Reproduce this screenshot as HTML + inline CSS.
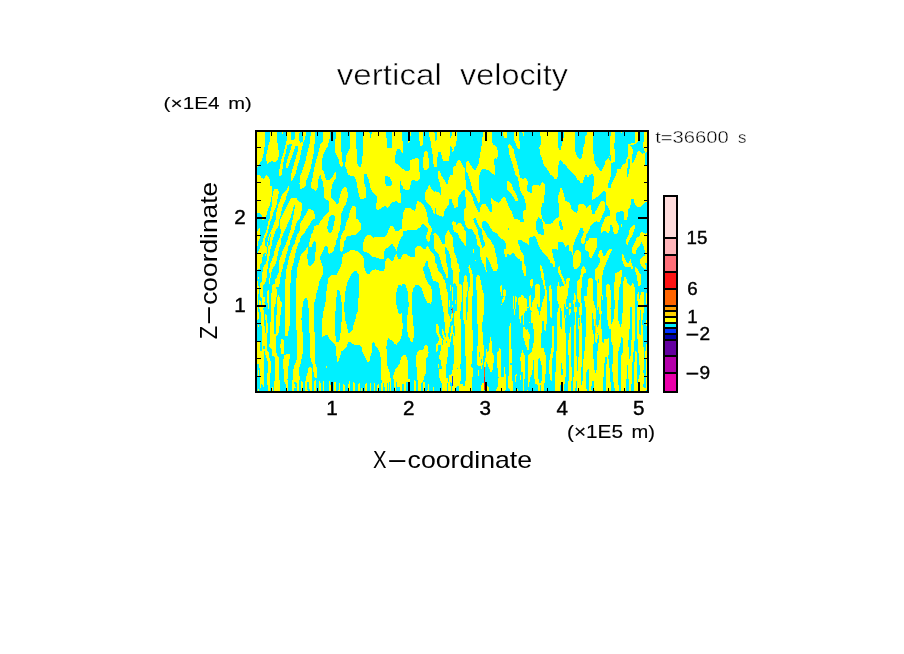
<!DOCTYPE html>
<html lang="en"><head><meta charset="utf-8"><title>vertical velocity</title>
<style>
html,body{margin:0;padding:0;background:#fff;}
body{width:904px;height:654px;overflow:hidden;}
svg{display:block;position:absolute;left:0;top:0;}
text{font-family:"Liberation Sans",sans-serif;fill:#000;}
.thin{stroke:#fff;stroke-width:0.5px;}
.lab{stroke:#000;stroke-width:0.4px;}
.un{stroke:#000;stroke-width:0.12px;}
.lt{stroke:#fff;stroke-width:0.35px;}
.ax{stroke:none;}
</style></head><body>
<svg width="904" height="654" viewBox="0 0 904 654">
<rect x="0" y="0" width="904" height="654" fill="#fff"/>
<defs><clipPath id="fc"><rect x="256" y="131" width="392" height="261"/></clipPath></defs>
<g shape-rendering="crispEdges" clip-path="url(#fc)">
<rect x="256" y="131" width="392" height="261" fill="#00f0ff"/>
<defs><clipPath id="c00"><rect x="256" y="131" width="66" height="44"/></clipPath><clipPath id="c10"><rect x="322" y="131" width="66" height="44"/></clipPath><clipPath id="c20"><rect x="388" y="131" width="66" height="44"/></clipPath><clipPath id="c30"><rect x="454" y="131" width="66" height="44"/></clipPath><clipPath id="c40"><rect x="520" y="131" width="66" height="44"/></clipPath><clipPath id="c50"><rect x="586" y="131" width="66" height="44"/></clipPath><clipPath id="c01"><rect x="256" y="175" width="66" height="44"/></clipPath><clipPath id="c11"><rect x="322" y="175" width="66" height="44"/></clipPath><clipPath id="c21"><rect x="388" y="175" width="66" height="44"/></clipPath><clipPath id="c31"><rect x="454" y="175" width="66" height="44"/></clipPath><clipPath id="c41"><rect x="520" y="175" width="66" height="44"/></clipPath><clipPath id="c51"><rect x="586" y="175" width="66" height="44"/></clipPath><clipPath id="c02"><rect x="256" y="219" width="66" height="44"/></clipPath><clipPath id="c12"><rect x="322" y="219" width="66" height="44"/></clipPath><clipPath id="c22"><rect x="388" y="219" width="66" height="44"/></clipPath><clipPath id="c32"><rect x="454" y="219" width="66" height="44"/></clipPath><clipPath id="c42"><rect x="520" y="219" width="66" height="44"/></clipPath><clipPath id="c52"><rect x="586" y="219" width="66" height="44"/></clipPath><clipPath id="c03"><rect x="256" y="263" width="66" height="44"/></clipPath><clipPath id="c13"><rect x="322" y="263" width="66" height="44"/></clipPath><clipPath id="c23"><rect x="388" y="263" width="66" height="44"/></clipPath><clipPath id="c33"><rect x="454" y="263" width="66" height="44"/></clipPath><clipPath id="c43"><rect x="520" y="263" width="66" height="44"/></clipPath><clipPath id="c53"><rect x="586" y="263" width="66" height="44"/></clipPath><clipPath id="c04"><rect x="256" y="307" width="66" height="44"/></clipPath><clipPath id="c14"><rect x="322" y="307" width="66" height="44"/></clipPath><clipPath id="c24"><rect x="388" y="307" width="66" height="44"/></clipPath><clipPath id="c34"><rect x="454" y="307" width="66" height="44"/></clipPath><clipPath id="c44"><rect x="520" y="307" width="66" height="44"/></clipPath><clipPath id="c54"><rect x="586" y="307" width="66" height="44"/></clipPath><clipPath id="c05"><rect x="256" y="351" width="66" height="44"/></clipPath><clipPath id="c15"><rect x="322" y="351" width="66" height="44"/></clipPath><clipPath id="c25"><rect x="388" y="351" width="66" height="44"/></clipPath><clipPath id="c35"><rect x="454" y="351" width="66" height="44"/></clipPath><clipPath id="c45"><rect x="520" y="351" width="66" height="44"/></clipPath><clipPath id="c55"><rect x="586" y="351" width="66" height="44"/></clipPath></defs>
<g clip-path="url(#c00)">
<polygon fill="#ffff00" points="256.0,131.0 256.0,145.6 256.0,150.0 256.0,155.8 256.0,159.5 256.0,162.4 256.0,165.3 256.0,166.8 257.5,166.8 258.2,165.3 260.5,162.4 262.2,159.5 263.3,155.8 263.9,150.0 264.8,145.6 264.8,131.0"/>
<polygon fill="#ffff00" points="269.9,131.0 269.5,142.0 268.4,144.9 267.7,148.5 267.0,152.2 266.2,155.8 265.9,159.1 267.0,162.4 267.3,163.9 268.0,163.9 268.8,162.4 277.9,159.1 279.0,155.8 279.0,152.2 278.3,148.5 277.9,144.9 277.2,142.0 277.2,131.0"/>
<polygon fill="#ffff00" points="272.8,159.1 273.2,160.2 273.5,162.0 275.1,162.0 277.2,160.2 277.9,159.1"/>
<polygon fill="#ffff00" points="281.9,131.7 281.9,133.9 283.0,133.9 283.0,131.7"/>
<polygon fill="#ffff00" points="286.7,131.0 286.7,140.5 285.9,143.4 285.2,145.6 283.7,152.9 282.3,156.6 281.2,160.2 280.5,163.9 279.7,167.5 279.2,171.2 279.0,175.0 281.6,175.0 282.3,171.2 282.6,167.5 283.4,163.9 283.7,160.2 284.5,156.6 285.9,152.9 287.0,145.6 290.3,143.4 291.0,140.5 291.0,131.0"/>
<polygon fill="#ffff00" points="295.1,131.0 295.1,136.8 294.0,140.5 291.8,143.4 291.8,144.1 291.8,145.6 302.7,145.6 302.7,144.1 300.7,143.4 299.4,140.5 299.1,136.8 299.8,131.0"/>
<polygon fill="#ffff00" points="290.3,139.8 290.3,144.1 295.8,144.1 294.7,139.8"/>
<polygon fill="#ffff00" points="291.8,144.1 291.6,145.6 290.9,149.3 289.7,152.9 288.1,156.6 287.0,160.2 286.3,163.9 286.1,166.8 286.3,167.9 287.4,167.9 288.1,166.8 289.2,163.9 290.5,160.2 291.9,156.6 293.4,152.9 294.5,149.3 295.3,145.6 295.8,144.1"/>
<polygon fill="#ffff00" points="302.7,131.0 302.7,138.3 302.6,142.0 297.6,144.1 298.0,149.3 297.2,152.9 296.2,156.6 295.1,160.2 294.0,163.9 292.9,167.5 292.1,171.2 291.0,175.0 295.1,175.0 296.2,171.2 297.2,167.5 298.3,163.9 299.4,160.2 300.2,156.6 300.9,152.9 301.6,149.3 302.9,144.1 303.6,142.0 305.1,138.3 306.4,131.0"/>
<polygon fill="#ffff00" points="310.8,131.0 310.4,138.3 309.3,145.6 307.1,152.9 305.6,160.2 303.5,167.5 300.9,175.0 308.6,175.0 310.8,167.5 312.2,160.2 313.7,152.9 314.4,145.6 315.1,138.3 315.1,131.0"/>
<polygon fill="#ffff00" points="321.0,142.7 319.2,149.3 317.3,156.6 315.1,163.9 313.7,171.2 312.9,175.0 322.0,175.0 322.0,171.2 322.0,163.9 322.0,156.6 322.0,149.3 322.0,142.7"/>
</g>
<g clip-path="url(#c10)">
<rect x="322" y="131" width="66" height="44" fill="#ffff00"/>
<polygon fill="#00f0ff" points="322.0,131.0 322.0,142.0 322.9,142.0 323.1,131.0"/>
<polygon fill="#00f0ff" points="330.0,131.0 329.7,138.3 328.9,140.5 328.2,145.6 325.7,149.3 324.2,152.2 323.1,155.1 322.4,158.7 322.0,160.2 322.0,163.9 322.0,166.8 322.0,167.5 322.0,171.9 322.0,175.0 347.9,175.0 347.2,171.9 346.1,167.5 341.3,166.8 339.5,163.9 338.8,160.2 338.4,158.7 336.6,155.1 335.1,152.2 335.1,149.3 335.1,145.6 335.1,140.5 335.9,138.3 335.9,131.0"/>
<polygon fill="#00f0ff" points="341.0,131.0 341.1,148.5 341.1,149.3 341.6,152.2 342.1,154.4 342.1,155.8 342.1,161.7 343.2,162.4 342.8,166.0 341.7,167.5 341.7,171.9 341.7,175.0 347.9,175.0 346.8,171.9 345.7,167.5 345.2,166.0 345.0,162.4 345.7,161.7 346.1,155.8 347.2,154.4 347.9,152.2 349.0,149.3 349.7,148.5 349.7,131.0"/>
<polygon fill="#ffff00" points="322.0,170.4 322.0,172.6 322.0,175.0 324.9,175.0 324.2,172.6 323.1,170.4"/>
<polygon fill="#ffff00" points="334.8,172.2 334.0,173.3 334.0,175.0 335.9,175.0 335.9,173.3 335.9,172.2"/>
<polygon fill="#00f0ff" points="355.2,131.0 355.9,133.9 356.2,148.5 357.0,150.0 357.2,155.8 357.2,156.6 357.2,163.9 358.1,165.3 359.2,166.8 360.7,166.8 361.1,165.3 361.8,163.9 362.0,156.6 362.9,155.8 363.2,150.0 363.2,148.5 363.2,133.9 363.2,131.0"/>
<polygon fill="#00f0ff" points="369.1,131.0 369.8,133.9 370.0,137.6 370.8,137.6 371.6,133.9 372.0,131.0"/>
<polygon fill="#00f0ff" points="386.1,131.0 386.2,137.6 387.0,138.3 387.1,147.8 388.0,147.8 388.0,138.3 388.0,137.6 388.0,131.0"/>
<polygon fill="#00f0ff" points="364.3,174.1 364.3,175.0 366.9,175.0 366.9,174.1"/>
</g>
<g clip-path="url(#c20)">
<polygon fill="#ffff00" points="392.0,131.0 392.0,140.5 392.0,141.2 392.0,147.8 390.9,149.3 402.2,152.9 403.0,152.9 403.0,149.3 403.0,147.8 403.0,141.2 401.9,140.5 401.9,131.0"/>
<polygon fill="#ffff00" points="388.0,147.8 388.0,149.3 388.0,152.2 388.0,156.6 388.0,163.1 388.0,165.3 388.0,169.0 388.0,171.5 388.0,175.0 420.1,175.0 407.3,171.5 402.6,169.0 399.0,165.3 395.3,163.1 394.9,156.6 396.2,152.2 397.1,149.3 388.7,147.8"/>
<polygon fill="#00f0ff" points="397.1,149.3 396.2,152.9 402.2,152.9 400.0,149.3"/>
<polygon fill="#ffff00" points="416.5,158.2 410.6,159.8 409.9,161.3 409.9,169.7 407.3,171.5 388.0,175.0 420.1,175.0 419.4,171.5 419.0,169.7 419.0,161.3 419.0,159.8 417.9,158.2"/>
<polygon fill="#ffff00" points="419.0,131.0 419.0,140.5 419.8,141.2 420.1,144.9 420.5,146.0 422.3,146.0 422.7,144.9 423.0,141.2 423.0,140.5 423.0,131.0"/>
<polygon fill="#ffff00" points="408.1,141.2 408.4,142.7 409.2,142.7 409.9,141.2"/>
<polygon fill="#ffff00" points="409.9,131.0 409.9,136.1 411.0,136.1 411.2,131.0"/>
<polygon fill="#ffff00" points="425.2,150.7 423.8,152.9 423.8,156.6 423.0,158.7 423.0,167.5 424.1,169.0 424.5,170.1 426.0,170.1 427.8,169.0 428.9,167.5 428.9,158.7 428.2,156.6 427.8,152.9 426.7,150.7"/>
<polygon fill="#ffff00" points="429.2,131.0 429.2,135.4 430.3,140.5 431.1,142.7 431.4,147.8 432.2,152.2 450.1,152.2 450.1,147.8 450.1,142.7 450.1,140.5 450.1,135.4 450.1,131.0"/>
<polygon fill="#ffff00" points="432.2,152.2 432.9,155.8 433.3,158.7 433.4,163.9 434.0,164.6 434.0,166.9 436.9,166.9 436.9,164.6 436.9,163.9 437.1,158.7 438.0,155.8 438.4,152.2"/>
<polygon fill="#ffff00" points="440.6,152.2 441.7,155.8 442.0,156.9 443.1,160.9 449.0,160.9 449.0,156.9 449.9,155.8 450.1,152.2"/>
<polygon fill="#00f0ff" points="434.0,131.0 434.7,133.9 435.1,139.8 435.5,140.9 436.2,140.9 436.6,139.8 436.9,133.9 436.9,131.0"/>
<polygon fill="#ffff00" points="450.1,131.0 450.1,145.6 450.9,146.3 452.6,149.3 452.2,152.2 453.3,152.2 454.0,149.3 454.0,146.3 454.0,145.6 454.0,131.0"/>
<polygon fill="#00f0ff" points="450.1,131.0 450.1,133.9 450.2,137.6 451.2,137.6 451.9,133.9 452.1,131.0"/>
<polygon fill="#ffff00" points="438.0,170.8 438.2,173.3 438.4,175.0 441.3,175.0 440.7,173.3 439.8,170.8"/>
<polygon fill="#ffff00" points="453.0,166.8 452.8,175.0 454.0,175.0 454.0,166.8"/>
</g>
<g clip-path="url(#c30)">
<polygon fill="#ffff00" points="454.0,131.0 454.0,140.5 454.0,142.0 454.0,145.6 454.0,146.7 454.6,146.7 455.5,145.6 456.2,142.0 456.9,140.5 456.9,131.0"/>
<polygon fill="#ffff00" points="483.2,131.0 482.8,136.8 482.1,138.3 482.1,142.0 482.1,144.9 481.0,146.3 481.0,148.5 480.6,151.4 479.9,152.9 479.9,156.6 479.9,156.9 479.2,159.1 478.5,163.9 477.7,165.3 477.0,167.5 475.5,169.7 474.4,171.0 474.4,175.0 494.9,175.0 494.5,171.0 494.9,169.7 494.9,167.5 494.9,165.3 494.2,163.9 494.2,159.1 495.6,156.9 497.8,156.6 497.8,152.9 497.8,151.4 497.1,148.5 496.0,146.3 493.4,144.9 492.0,142.0 492.0,138.3 492.0,136.8 492.0,131.0"/>
<polygon fill="#ffff00" points="494.9,156.6 496.0,159.1 496.9,159.1 497.8,156.6"/>
<polygon fill="#00f0ff" points="482.1,169.0 481.2,170.4 480.4,172.2 479.9,174.1 479.9,175.0 494.9,175.0 492.7,174.1 490.9,172.2 489.4,170.4 484.3,169.0"/>
<polygon fill="#ffff00" points="458.0,160.2 456.9,162.4 455.8,165.3 454.0,166.8 454.0,168.2 454.0,175.0 465.0,175.0 465.0,168.2 463.5,166.8 462.8,165.3 461.3,162.4 459.8,160.2"/>
<polygon fill="#ffff00" points="467.1,160.9 466.0,163.1 466.0,166.0 466.0,169.0 466.0,170.8 466.4,171.9 467.5,173.3 468.2,175.0 479.9,175.0 479.6,173.3 475.9,171.9 474.8,170.8 473.3,169.0 471.2,166.0 469.7,163.1 469.0,160.9"/>
<polygon fill="#ffff00" points="502.9,131.0 503.1,135.4 504.0,136.1 504.4,137.9 506.7,137.9 506.9,136.1 506.9,135.4 506.9,131.0"/>
<polygon fill="#ffff00" points="514.2,131.0 514.2,140.5 515.0,141.2 515.7,144.1 517.5,147.8 518.6,148.9 520.0,148.9 520.0,147.8 520.0,144.1 520.0,141.2 519.0,140.5 519.0,131.0"/>
<polygon fill="#ffff00" points="508.8,144.1 508.0,146.3 508.8,149.3 509.1,152.9 509.9,156.6 511.3,160.2 512.4,163.9 513.5,167.5 514.6,171.2 515.0,175.0 519.0,175.0 518.8,171.2 518.2,167.5 517.2,163.9 516.4,160.2 515.0,156.6 514.2,152.9 513.5,149.3 511.7,146.3 510.2,144.1"/>
</g>
<g clip-path="url(#c40)">
<polygon fill="#ffff00" points="522.2,131.0 522.6,133.9 523.1,135.7 523.8,135.7 524.0,133.9 524.0,131.0"/>
<polygon fill="#ffff00" points="540.1,131.0 540.1,135.4 541.0,136.8 541.0,144.1 540.1,145.6 539.1,148.5 539.9,150.0 540.1,154.4 541.2,155.8 541.9,158.7 542.6,160.2 543.4,163.9 544.8,166.0 547.0,169.0 548.8,171.9 550.3,175.0 586.0,175.0 586.0,171.9 586.0,169.0 586.0,166.0 586.0,163.9 586.0,160.2 586.0,158.7 586.0,155.8 586.0,154.4 586.0,150.0 586.0,148.5 586.0,145.6 586.0,144.1 586.0,136.8 586.0,135.4 586.0,131.0"/>
<polygon fill="#00f0ff" points="558.3,131.0 558.1,140.5 558.1,142.0 558.1,144.1 558.1,147.8 559.1,149.3 559.4,150.0 560.5,150.0 560.9,149.3 561.2,147.8 562.0,144.1 562.3,142.0 563.4,140.5 563.8,131.0"/>
<polygon fill="#00f0ff" points="559.8,159.8 559.1,161.7 558.7,163.9 558.3,165.3 558.0,167.5 558.0,169.7 558.0,171.9 558.0,175.0 574.0,175.0 571.5,171.9 569.6,169.7 567.5,167.5 565.6,165.3 563.8,163.9 562.0,161.7 560.9,159.8"/>
<polygon fill="#00f0ff" points="574.8,131.0 574.8,142.0 574.8,145.6 574.9,149.3 575.9,152.9 576.9,155.8 578.4,158.0 579.5,159.1 581.0,159.1 581.7,158.0 582.2,155.8 582.6,152.9 582.9,149.3 583.9,145.6 585.0,142.0 586.0,131.0"/>
</g>
<g clip-path="url(#c50)">
<rect x="586" y="131" width="66" height="44" fill="#ffff00"/>
<polygon fill="#00f0ff" points="586.0,131.0 586.0,134.7 586.9,134.7 587.1,131.0"/>
<polygon fill="#00f0ff" points="593.3,131.0 593.3,135.4 593.3,136.8 593.3,152.2 593.7,155.1 594.2,159.1 594.6,161.7 596.2,165.3 598.4,168.2 600.6,170.8 601.7,170.8 603.2,168.2 604.3,165.3 605.3,161.7 607.2,159.1 610.5,155.1 609.9,152.2 609.9,136.8 610.8,135.4 610.8,131.0"/>
<polygon fill="#00f0ff" points="609.9,155.1 609.2,159.1 611.0,162.0 611.3,162.0 611.2,159.1 610.8,155.1"/>
<polygon fill="#00f0ff" points="615.1,131.0 615.1,142.0 614.3,142.7 614.3,144.1 614.3,149.3 615.1,150.0 615.1,156.6 615.1,158.7 614.5,161.7 611.2,163.1 611.2,164.2 611.2,165.3 611.2,169.0 611.2,169.3 611.2,171.9 611.2,175.0 615.9,175.0 616.7,171.9 617.4,169.3 621.0,169.0 622.1,165.3 624.0,164.2 625.8,163.1 626.0,161.7 626.5,158.7 627.6,156.6 628.0,150.0 628.0,149.3 628.2,144.1 635.6,142.7 635.1,142.0 635.1,131.0"/>
<polygon fill="#00f0ff" points="640.0,131.0 640.0,140.5 638.0,141.2 637.8,142.0 635.6,144.1 629.8,145.6 631.6,147.4 632.7,149.3 632.7,152.9 632.4,155.1 632.0,156.6 631.6,160.2 631.6,163.1 632.4,163.1 634.6,160.2 636.0,156.6 637.1,155.1 645.1,152.9 644.0,149.3 642.9,147.4 642.9,145.6 642.9,144.1 642.9,142.0 644.0,141.2 644.0,140.5 644.0,131.0"/>
<polygon fill="#ffff00" points="638.9,151.1 637.1,152.9 636.4,155.1 636.0,156.6 645.1,156.6 643.7,155.1 641.5,152.9 640.0,151.1"/>
<polygon fill="#00f0ff" points="628.3,159.1 628.0,163.1 627.6,167.5 627.2,171.2 627.2,175.0 628.3,175.0 629.1,171.2 629.8,167.5 630.5,163.1 629.8,159.1"/>
<polygon fill="#00f0ff" points="645.9,152.2 645.1,152.9 645.3,164.6 646.2,165.3 647.0,165.3 647.0,164.6 647.0,152.9 647.0,152.2"/>
<polygon fill="#ffff00" points="621.0,131.6 621.0,132.8 621.9,132.8 621.9,131.6"/>
<polygon fill="#00f0ff" points="591.1,174.1 591.1,175.0 592.9,175.0 592.9,174.1"/>
</g>
<g clip-path="url(#c01)">
<polygon fill="#ffff00" points="256.0,175.0 256.0,177.9 256.0,179.4 256.0,180.8 256.0,185.2 256.0,186.7 256.0,196.9 256.0,197.6 256.0,202.0 256.0,205.7 256.0,209.3 256.0,213.0 256.0,217.0 256.0,219.0 265.9,219.0 265.9,217.0 267.0,213.0 268.0,209.3 269.5,205.7 270.6,202.0 271.0,197.6 271.9,196.9 271.9,186.7 269.5,185.2 269.5,180.8 269.9,179.4 268.8,177.9 267.0,175.0"/>
<polygon fill="#00f0ff" points="260.0,175.0 261.1,177.2 262.9,178.7 264.0,178.7 265.1,177.2 265.9,175.0"/>
<polygon fill="#00f0ff" points="256.0,213.0 256.0,214.4 256.0,217.0 256.0,219.0 262.2,219.0 262.2,217.0 261.1,214.4 258.9,213.0"/>
<polygon fill="#ffff00" points="274.3,189.2 273.4,191.8 272.4,196.9 271.9,200.6 271.7,204.2 271.7,206.4 271.0,209.3 270.2,212.2 269.9,215.9 269.5,219.0 271.7,219.0 272.4,215.9 273.5,212.2 275.0,209.3 276.1,206.4 276.8,204.2 277.2,200.6 277.9,196.9 279.0,191.8 277.9,189.2"/>
<polygon fill="#ffff00" points="288.1,186.3 286.7,189.6 284.5,191.8 282.3,194.7 281.2,196.9 280.1,200.6 279.0,202.7 277.9,205.7 277.2,209.3 276.4,213.0 276.1,215.9 275.9,219.0 280.1,219.0 280.5,215.9 280.8,213.0 281.9,209.3 283.0,205.7 284.1,202.7 285.2,200.6 286.3,196.9 287.0,194.7 288.1,191.8 289.0,189.6 289.0,186.3"/>
<polygon fill="#ffff00" points="291.0,198.4 290.2,199.8 289.2,202.0 288.1,203.5 287.0,205.7 285.6,208.6 284.5,210.8 283.4,213.0 281.9,215.9 280.8,219.0 299.8,219.0 300.5,215.9 301.3,213.0 301.6,210.8 302.0,208.6 302.0,205.7 302.0,203.5 299.8,202.0 297.6,199.8 296.9,198.4"/>
<polygon fill="#00f0ff" points="294.0,204.9 293.2,207.9 292.5,210.8 291.4,214.4 290.9,216.6 290.3,219.0 292.9,219.0 293.1,216.6 293.6,214.4 294.3,210.8 294.7,207.9 295.1,204.9"/>
<polygon fill="#ffff00" points="308.9,208.9 307.1,211.5 305.6,214.4 304.2,216.6 303.1,219.0 315.0,219.0 315.0,216.6 314.8,214.4 313.7,211.5 310.8,208.9"/>
<polygon fill="#ffff00" points="291.0,175.0 291.0,177.2 291.0,178.7 291.2,180.8 292.1,180.8 292.9,178.7 294.0,177.2 295.1,175.0"/>
<polygon fill="#ffff00" points="279.0,175.0 279.2,175.9 280.7,175.9 280.8,175.0"/>
<polygon fill="#ffff00" points="300.5,175.0 300.4,179.4 300.2,180.1 299.4,183.8 299.8,185.2 300.2,186.7 300.4,188.5 302.0,188.5 304.9,186.7 306.0,185.2 306.0,183.8 306.4,180.1 307.1,179.4 308.2,175.0"/>
<polygon fill="#ffff00" points="312.9,175.0 312.6,177.2 312.2,179.4 311.5,182.3 311.1,183.8 311.1,187.4 312.9,188.9 314.8,190.5 316.2,190.5 317.0,188.9 317.7,187.4 318.1,183.8 318.1,182.3 318.4,179.4 319.2,177.2 320.2,175.0"/>
<polygon fill="#ffff00" points="320.6,175.0 321.0,178.7 322.0,178.7 322.0,175.0"/>
</g>
<g clip-path="url(#c11)">
<polygon fill="#ffff00" points="322.0,175.0 322.0,178.7 322.0,180.8 322.9,181.6 323.1,186.0 323.8,187.4 324.0,191.8 324.0,197.6 326.0,199.8 328.9,200.9 329.3,202.7 329.3,204.9 329.3,206.4 338.1,206.4 337.0,204.9 335.9,202.7 334.0,200.9 333.0,199.8 331.1,197.6 330.9,191.8 331.9,187.4 331.9,186.0 333.7,181.6 334.0,180.8 335.9,178.7 335.9,175.0"/>
<polygon fill="#00f0ff" points="324.9,175.0 325.3,177.9 326.4,179.7 330.0,179.7 332.2,177.9 333.0,175.0"/>
<polygon fill="#ffff00" points="343.9,187.0 342.8,188.5 341.3,191.8 340.8,192.5 339.9,196.9 339.2,198.4 338.8,202.0 338.4,202.7 336.6,204.9 329.3,206.4 328.9,209.3 328.6,211.5 327.5,213.0 326.0,214.4 324.2,215.9 322.7,219.0 341.0,219.0 341.0,215.9 341.0,214.4 341.6,213.0 342.3,211.5 343.2,209.3 344.3,206.4 345.4,204.9 346.1,202.7 346.8,202.0 347.2,198.4 347.9,196.9 347.9,192.5 347.2,191.8 347.2,188.5 346.1,187.0"/>
<polygon fill="#00f0ff" points="331.1,215.0 329.7,216.6 328.9,219.0 335.1,219.0 334.6,216.6 333.7,215.0"/>
<polygon fill="#ffff00" points="347.9,175.0 353.4,176.1 355.2,177.9 355.9,179.4 356.7,183.0 357.0,184.5 357.4,188.1 357.9,188.9 358.5,192.5 359.6,196.9 360.0,197.8 360.3,198.7 363.6,198.7 365.8,197.8 366.0,196.9 366.0,192.5 366.0,188.9 365.8,188.1 364.7,184.5 364.2,183.0 364.0,179.4 364.0,177.9 364.0,176.1 364.0,175.0"/>
<polygon fill="#ffff00" points="367.1,175.0 367.6,177.2 368.7,179.4 369.5,183.0 370.6,188.1 371.6,190.7 374.2,193.3 376.8,196.2 376.8,202.7 376.0,203.5 376.0,204.6 376.0,207.1 376.0,208.2 376.4,208.9 377.1,209.7 378.2,209.7 379.7,208.9 381.5,208.2 383.0,207.1 388.0,204.6 388.0,203.5 388.0,202.7 388.0,196.2 388.0,193.3 388.0,190.7 388.0,188.1 388.0,183.0 388.0,179.4 388.0,177.2 388.0,175.0"/>
<polygon fill="#ffff00" points="384.8,204.6 386.6,207.1 387.3,207.5 388.0,207.5 388.0,207.1 388.0,204.6"/>
<polygon fill="#00f0ff" points="386.2,175.7 385.2,176.8 385.2,183.8 385.9,184.5 386.2,186.0 388.0,186.0 388.0,184.5 388.0,183.8 388.0,176.8 388.0,175.7"/>
<polygon fill="#ffff00" points="353.0,206.0 351.9,207.1 351.2,208.6 350.1,210.8 349.2,214.4 348.6,217.3 347.9,219.0 355.9,219.0 355.9,217.3 355.9,214.4 355.9,210.8 355.9,208.6 355.9,207.1 354.9,206.0"/>
</g>
<g clip-path="url(#c21)">
<polygon fill="#ffff00" points="388.0,175.0 388.0,192.5 388.0,193.3 388.0,200.2 388.0,202.4 388.0,205.7 388.0,207.1 388.4,207.1 389.5,205.7 391.7,202.4 401.0,200.2 401.0,193.3 400.0,192.5 400.4,175.0"/>
<polygon fill="#ffff00" points="393.8,200.2 396.0,200.9 398.2,203.1 401.0,203.1 401.0,200.9 401.0,200.2"/>
<polygon fill="#00f0ff" points="388.0,177.2 388.0,179.4 388.0,181.6 388.0,184.5 388.0,186.0 390.9,186.0 392.0,184.5 392.0,181.6 390.9,179.4 389.5,177.2"/>
<polygon fill="#ffff00" points="400.4,175.0 400.4,177.9 400.4,180.8 401.5,184.5 401.9,185.2 403.7,188.9 405.5,190.0 408.4,190.0 409.5,188.9 409.9,185.2 411.0,184.5 411.4,180.8 420.1,177.9 420.1,175.0"/>
<polygon fill="#ffff00" points="412.5,177.9 412.8,178.7 415.4,180.8 417.9,180.8 419.8,178.7 420.1,177.9"/>
<polygon fill="#ffff00" points="428.9,185.2 427.8,188.1 426.3,190.7 425.2,192.2 425.2,195.8 425.2,199.1 426.3,201.3 428.9,204.2 429.6,204.9 431.1,207.1 431.8,208.6 432.5,210.0 433.6,213.0 434.7,213.7 438.4,215.2 442.0,216.6 443.1,216.6 443.9,215.2 444.2,213.7 444.2,213.0 444.6,210.0 445.7,208.6 447.1,207.1 448.6,204.9 449.0,204.2 449.0,201.3 449.0,199.1 440.9,195.8 439.1,192.2 432.7,190.7 430.9,188.1 430.0,185.2"/>
<polygon fill="#ffff00" points="438.0,175.0 438.4,178.7 439.8,182.3 440.2,186.7 440.7,187.4 440.7,195.8 440.7,199.1 454.0,199.1 454.0,195.8 454.0,187.4 454.0,186.7 454.0,182.3 454.0,178.7 454.0,175.0"/>
<polygon fill="#00f0ff" points="440.9,175.0 443.5,178.7 445.3,181.6 446.4,183.8 447.9,183.8 448.2,181.6 449.0,178.7 450.1,175.0"/>
<polygon fill="#ffff00" points="451.9,199.1 452.2,202.0 453.3,204.2 453.7,204.9 454.0,204.9 454.0,204.2 454.0,202.0 454.0,199.1"/>
<polygon fill="#00f0ff" points="435.1,208.2 434.9,213.7 435.6,213.7 435.8,208.2"/>
<polygon fill="#00f0ff" points="433.6,190.0 434.0,192.2 435.1,192.2 435.5,190.0"/>
<polygon fill="#ffff00" points="417.6,201.3 416.8,202.7 416.1,205.7 415.7,207.1 415.4,210.0 412.1,214.4 412.1,219.0 427.8,219.0 427.1,214.4 426.0,210.0 424.9,207.1 423.8,205.7 420.9,202.7 419.0,201.3"/>
<polygon fill="#ffff00" points="405.5,208.2 404.1,210.8 403.7,211.5 403.0,214.4 403.0,219.0 417.2,219.0 417.2,214.4 415.4,211.5 413.9,210.8 411.0,208.2"/>
</g>
<g clip-path="url(#c31)">
<polygon fill="#ffff00" points="454.0,175.0 454.0,179.4 454.0,180.1 454.0,189.6 454.0,190.0 454.0,192.5 454.0,196.2 454.0,197.6 454.0,207.1 454.0,207.9 454.7,207.9 458.0,207.1 458.0,197.6 459.1,196.2 461.3,192.5 463.1,190.0 466.0,189.6 466.0,180.1 465.1,179.4 465.0,175.0"/>
<polygon fill="#ffff00" points="465.0,188.9 465.0,190.0 465.0,193.3 465.3,196.2 466.0,198.4 466.0,202.0 466.0,204.2 465.7,207.9 464.2,209.3 464.1,211.5 464.1,212.2 464.1,219.0 479.2,219.0 479.2,212.2 478.5,211.5 477.4,209.3 476.6,207.9 474.8,204.2 473.7,202.0 472.8,198.4 472.1,196.2 470.4,193.3 467.5,190.0 466.4,188.9"/>
<polygon fill="#ffff00" points="483.2,204.1 481.4,204.9 481.0,206.4 480.3,207.9 480.1,208.6 479.9,211.5 479.2,212.2 479.2,219.0 492.0,219.0 492.0,212.2 489.8,211.5 488.3,208.6 487.9,207.9 486.9,206.4 486.1,204.9 485.8,204.1"/>
<polygon fill="#ffff00" points="503.1,196.9 502.2,198.0 500.7,200.6 498.5,202.9 492.0,204.9 492.0,207.9 492.0,211.5 492.0,215.9 492.0,219.0 514.6,219.0 513.1,215.9 511.7,211.5 509.5,207.9 508.0,204.9 507.3,202.9 506.4,200.6 505.8,198.0 505.0,196.9"/>
<polygon fill="#ffff00" points="491.1,198.0 491.1,200.2 491.1,202.9 491.4,204.2 492.0,204.9 498.7,204.9 498.7,204.2 498.7,202.9 493.4,200.2 491.7,198.0"/>
<polygon fill="#00f0ff" points="474.1,218.1 474.1,219.0 475.9,219.0 475.9,218.1"/>
<polygon fill="#ffff00" points="467.9,175.0 468.6,175.7 469.7,179.4 470.9,183.0 471.9,188.1 473.1,192.5 475.8,196.2 476.6,198.4 477.7,201.3 478.5,202.7 479.2,202.7 479.6,201.3 479.9,198.4 479.9,196.2 479.9,192.5 479.2,188.1 479.2,183.0 479.2,179.4 479.2,175.7 479.9,175.0"/>
<polygon fill="#ffff00" points="507.7,181.2 506.9,182.3 506.9,185.2 506.9,189.6 508.0,190.7 510.6,193.3 513.1,196.2 514.6,199.1 515.3,200.9 517.9,200.9 517.9,199.1 516.8,196.2 515.7,193.3 514.6,190.7 513.5,189.6 512.0,185.2 510.2,182.3 509.1,181.2"/>
<polygon fill="#ffff00" points="516.1,175.0 517.2,176.5 518.1,179.4 519.0,182.3 519.1,186.7 520.0,186.7 520.0,182.3 520.0,179.4 520.0,176.5 520.0,175.0"/>
</g>
<g clip-path="url(#c41)">
<polygon fill="#ffff00" points="520.0,177.9 520.0,179.4 520.0,181.2 520.0,184.5 520.0,185.2 520.0,190.7 520.9,191.8 521.5,192.9 529.9,192.9 528.8,191.8 527.2,190.7 527.2,185.2 527.9,184.5 527.9,181.2 526.9,179.4 526.2,177.9"/>
<polygon fill="#ffff00" points="533.1,185.2 532.0,186.7 531.7,192.9 544.8,192.9 544.8,186.7 537.2,185.2"/>
<polygon fill="#ffff00" points="541.9,181.9 541.0,184.1 539.3,186.7 544.8,186.7 544.8,184.1 542.8,181.9"/>
<polygon fill="#ffff00" points="521.5,192.9 522.2,194.7 522.9,195.4 524.0,196.9 524.7,199.8 525.1,202.7 525.8,203.5 525.8,206.4 525.8,207.1 525.8,210.0 524.0,210.4 523.1,212.2 523.1,214.8 523.1,215.5 523.1,219.0 541.9,219.0 541.9,215.5 541.2,214.8 541.2,212.2 541.2,210.4 541.2,210.0 541.2,207.1 541.9,206.4 542.3,203.5 543.7,202.7 544.1,199.8 544.1,196.9 544.1,195.4 544.8,194.7 544.8,192.9"/>
<polygon fill="#00f0ff" points="537.9,217.0 537.9,219.0 540.1,219.0 539.1,217.0"/>
<polygon fill="#00f0ff" points="521.8,177.9 522.2,178.7 523.7,178.7 524.0,177.9"/>
<polygon fill="#ffff00" points="552.1,175.0 552.9,176.8 553.9,177.9 554.3,179.0 556.9,179.0 557.2,177.9 557.6,176.8 558.0,175.0"/>
<polygon fill="#ffff00" points="574.8,175.0 575.9,176.8 576.9,179.4 578.4,180.1 579.9,181.2 580.2,182.7 582.8,182.7 582.9,181.2 583.5,180.1 583.9,179.4 584.6,176.8 585.0,175.0"/>
<polygon fill="#ffff00" points="560.2,188.1 560.0,190.7 559.1,194.0 558.1,196.2 558.0,200.6 558.3,202.4 559.1,203.5 559.1,205.7 559.1,208.6 559.1,210.8 559.1,213.0 559.1,213.7 559.1,217.0 558.0,217.7 555.0,219.0 586.0,219.0 586.0,217.7 586.0,217.0 586.0,213.7 576.2,213.0 573.3,210.8 571.5,208.6 570.7,205.7 570.0,203.5 568.9,202.4 565.3,200.6 564.2,196.2 563.7,194.0 562.7,190.7 562.0,188.1"/>
<polygon fill="#ffff00" points="579.9,204.1 578.4,204.9 578.0,206.4 577.7,210.8 576.6,213.0 574.0,213.7 586.0,213.7 586.0,213.0 586.0,210.8 586.0,206.4 585.0,204.9 582.8,204.1"/>
</g>
<g clip-path="url(#c51)">
<rect x="586" y="175" width="66" height="44" fill="#ffff00"/>
<polygon fill="#00f0ff" points="586.0,175.0 586.0,177.2 586.0,185.2 586.0,186.0 586.0,191.8 586.0,192.5 586.0,199.8 586.0,204.2 586.0,207.9 586.1,207.9 591.0,204.2 592.0,199.8 592.0,192.5 592.9,191.8 592.9,186.0 593.9,185.2 593.9,177.2 593.3,175.0"/>
<polygon fill="#ffff00" points="587.1,175.0 587.3,176.8 588.9,176.8 589.7,175.0"/>
<polygon fill="#00f0ff" points="603.2,191.1 602.1,192.5 598.0,196.2 595.5,198.0 592.2,199.8 591.0,200.9 591.0,201.3 591.0,204.9 591.1,208.6 591.8,211.5 592.4,213.7 594.8,213.7 595.5,211.5 597.0,208.6 599.1,204.9 601.0,201.3 605.9,200.9 605.9,199.8 605.9,198.0 605.9,196.2 605.9,192.5 605.1,191.1"/>
<polygon fill="#00f0ff" points="604.3,200.9 604.8,203.5 605.0,206.4 605.0,209.3 604.3,211.5 603.5,213.0 602.2,215.9 601.7,217.0 601.0,219.0 605.1,219.0 605.1,217.0 609.9,215.9 609.9,213.0 609.9,211.5 609.4,209.3 607.5,206.4 605.9,203.5 605.9,200.9"/>
<polygon fill="#00f0ff" points="611.2,175.0 610.5,177.2 609.2,180.8 608.0,184.1 608.0,186.0 608.3,187.8 610.8,187.8 611.0,186.0 611.6,184.1 613.2,180.8 615.2,177.2 615.9,175.0"/>
<polygon fill="#00f0ff" points="626.9,175.0 627.0,176.8 627.8,176.8 628.0,175.0"/>
<polygon fill="#00f0ff" points="621.0,211.1 617.0,212.2 616.1,214.4 615.9,219.0 624.0,219.0 624.0,214.4 624.0,212.2 622.9,211.1"/>
<polygon fill="#00f0ff" points="631.3,199.1 630.9,202.7 630.2,206.4 630.2,207.5 628.2,208.9 627.5,216.6 626.9,219.0 647.0,219.0 647.0,216.6 647.0,208.9 647.0,207.5 636.0,206.4 634.2,202.7 633.5,199.1"/>
<polygon fill="#00f0ff" points="645.1,202.0 642.2,204.9 640.8,207.1 636.4,207.9 647.0,207.9 647.0,207.1 647.0,204.9 647.0,202.0"/>
</g>
<g clip-path="url(#c02)">
<polygon fill="#ffff00" points="262.0,219.0 262.2,219.9 263.7,219.9 263.9,219.0"/>
<polygon fill="#ffff00" points="259.1,227.9 258.2,230.0 256.0,231.8 256.0,238.7 256.0,239.4 256.0,240.9 256.0,241.0 256.0,245.7 257.6,245.7 257.8,241.0 258.9,240.9 259.1,239.4 259.8,238.7 259.8,231.8 259.8,230.0 259.7,227.9"/>
<polygon fill="#ffff00" points="269.1,219.0 269.1,220.8 268.0,221.9 268.0,224.5 267.8,225.2 267.0,227.4 266.4,230.0 265.9,231.8 265.1,233.6 264.4,235.4 263.8,237.3 263.3,239.1 262.9,241.0 262.2,242.8 261.5,244.6 260.4,245.7 260.0,246.8 259.7,248.3 258.9,250.1 258.3,251.9 257.8,253.8 256.0,255.9 256.0,263.0 267.0,263.0 267.0,255.9 267.0,253.8 267.0,251.9 267.0,250.1 267.0,248.3 267.0,246.8 265.1,245.7 265.1,244.6 265.1,242.8 265.1,241.0 265.1,239.1 265.9,237.3 266.6,235.4 267.0,233.6 268.0,231.8 268.2,230.0 268.8,227.4 268.8,225.2 269.7,224.5 270.0,221.9 271.0,220.8 271.0,219.0"/>
<polygon fill="#00f0ff" points="264.0,253.0 263.1,254.1 262.7,256.3 262.0,258.1 262.0,261.1 262.0,261.8 262.0,263.0 265.9,263.0 266.2,261.8 267.0,261.1 267.0,258.1 267.0,256.3 267.0,254.1 264.9,253.0"/>
<polygon fill="#ffff00" points="265.1,253.8 265.3,255.9 265.9,255.9 266.0,253.8"/>
<polygon fill="#ffff00" points="269.1,234.0 269.0,235.4 268.0,238.0 268.0,240.9 267.1,242.1 267.0,245.7 267.8,245.7 268.0,242.1 268.8,240.9 269.1,238.0 270.0,235.4 270.0,234.0"/>
<polygon fill="#ffff00" points="275.9,219.0 275.0,220.8 274.1,222.7 273.9,224.5 273.2,226.3 272.4,228.1 271.7,230.0 270.6,231.8 270.0,232.9 271.0,235.4 270.0,238.0 269.9,241.0 269.5,244.6 268.0,246.5 268.0,248.3 268.0,250.1 267.8,251.9 267.7,253.8 267.1,255.6 267.0,257.4 267.0,259.2 266.6,261.1 265.9,263.0 268.0,263.0 268.4,261.1 268.8,259.2 269.1,257.4 269.7,255.6 269.9,253.8 269.9,251.9 270.2,250.1 271.0,248.3 271.5,246.5 272.1,244.6 272.2,241.0 273.2,238.0 273.9,235.4 274.8,232.9 275.3,231.8 276.1,230.0 277.3,228.1 278.3,226.3 279.0,224.5 279.0,222.7 279.0,220.8 279.7,219.0"/>
<polygon fill="#ffff00" points="279.7,219.0 280.1,220.8 280.1,223.0 280.1,224.5 279.9,226.3 280.2,228.1 281.0,230.0 281.2,231.8 280.8,233.6 280.2,235.4 279.7,237.3 279.0,239.1 277.9,241.0 276.8,244.6 276.1,246.5 275.1,248.3 274.3,251.9 273.9,253.8 273.5,255.6 272.8,257.4 272.1,259.2 271.3,261.1 271.0,263.0 275.9,263.0 276.4,261.1 277.0,259.2 277.3,257.4 277.7,255.6 278.0,253.8 278.3,251.9 279.0,248.3 279.7,246.5 280.5,244.6 281.2,241.0 281.2,239.1 281.9,237.3 282.6,235.4 283.4,233.6 284.1,231.8 285.2,230.0 285.9,228.1 286.7,226.3 287.4,224.5 288.1,223.0 289.0,220.8 290.1,219.0"/>
<polygon fill="#ffff00" points="293.0,219.0 292.5,220.1 292.1,221.9 291.8,223.7 290.9,226.3 290.8,228.9 289.9,231.8 289.0,234.0 288.3,236.9 287.9,238.7 287.0,241.0 285.6,244.6 285.4,245.0 284.3,247.2 283.0,250.1 282.3,251.9 281.2,255.6 279.7,259.2 278.8,263.0 284.1,263.0 285.2,259.2 286.1,255.6 287.0,251.9 287.8,250.1 288.1,247.2 289.0,245.0 290.1,244.6 290.3,241.0 291.0,238.7 292.1,236.9 292.9,234.0 294.0,231.8 294.8,228.9 295.4,226.3 295.9,223.7 297.0,221.9 298.0,220.1 300.0,219.0"/>
<polygon fill="#ffff00" points="303.1,219.0 302.0,220.1 300.9,221.9 300.3,223.7 300.0,225.6 300.0,227.0 300.0,228.9 300.0,230.0 299.1,232.1 298.0,233.6 297.0,235.4 296.4,236.9 295.8,238.7 295.2,241.0 295.1,242.1 294.7,243.9 293.0,245.7 292.1,248.3 291.0,250.8 290.1,254.5 289.0,257.8 288.1,261.1 287.4,263.0 294.0,263.0 294.0,261.1 294.5,257.8 295.3,254.5 295.9,250.8 296.9,248.3 297.5,245.7 298.0,243.9 299.1,242.1 300.0,241.0 300.0,238.7 300.9,236.9 302.0,235.4 304.0,233.6 305.1,232.1 306.0,230.0 306.9,228.9 308.0,227.0 309.1,225.6 310.2,223.7 310.8,221.9 312.0,220.1 314.2,219.0"/>
<polygon fill="#ffff00" points="307.3,247.0 306.9,247.9 305.1,250.1 303.6,252.3 302.0,253.8 301.6,254.0 301.0,254.5 300.3,257.0 299.7,258.9 299.6,259.2 298.9,263.0 308.0,263.0 308.0,259.2 306.9,258.9 306.9,257.0 306.9,254.5 306.9,254.0 308.0,253.8 308.0,252.3 308.0,250.1 308.0,247.9 308.0,247.0"/>
<polygon fill="#ffff00" points="310.0,241.0 309.1,242.8 309.1,244.6 309.1,246.8 311.9,246.8 312.0,244.6 313.1,242.8 314.2,241.0"/>
<polygon fill="#ffff00" points="321.1,220.1 320.2,221.2 319.2,223.4 318.1,225.2 314.2,225.9 314.0,229.6 313.1,230.0 312.9,232.9 310.9,234.0 310.9,238.0 310.0,238.3 310.0,241.0 322.0,241.0 322.0,238.3 322.0,238.0 322.0,234.0 322.0,232.9 322.0,230.0 322.0,229.6 322.0,225.9 322.0,225.2 322.0,223.4 322.0,221.2 322.0,220.1"/>
<polygon fill="#ffff00" points="315.1,241.0 316.0,242.8 316.0,251.9 315.1,252.3 315.1,260.7 314.2,261.1 314.0,263.0 322.0,263.0 322.0,261.1 322.0,260.7 322.0,252.3 322.0,251.9 322.0,242.8 322.0,241.0"/>
<polygon fill="#00f0ff" points="321.1,253.8 320.2,257.8 320.0,259.2 321.1,260.0 321.1,263.0 322.0,263.0 322.0,260.0 322.0,259.2 322.0,257.8 322.0,253.8"/>
</g>
<g clip-path="url(#c12)">
<polygon fill="#ffff00" points="322.0,219.0 322.0,224.8 322.0,225.6 322.0,231.4 322.0,233.6 322.0,238.7 322.0,240.9 322.0,244.6 322.0,246.2 322.0,247.5 322.0,250.4 322.0,252.6 328.2,253.9 329.7,253.9 331.9,252.6 333.7,250.4 334.4,247.5 335.1,246.2 335.5,244.6 336.2,240.9 337.3,238.7 338.4,233.6 339.5,231.4 339.9,225.6 341.0,224.8 341.0,219.0"/>
<polygon fill="#00f0ff" points="325.1,246.2 324.2,248.2 323.6,249.7 322.0,252.9 322.0,254.0 329.3,254.0 328.2,252.9 328.0,249.7 327.8,248.2 327.0,246.2"/>
<polygon fill="#00f0ff" points="328.9,219.0 328.2,221.9 327.1,227.8 328.2,230.7 328.9,232.9 330.8,232.9 332.2,230.7 333.3,227.8 334.0,221.9 335.1,219.0"/>
<polygon fill="#ffff00" points="347.9,219.0 347.2,220.5 346.1,222.7 346.1,224.1 344.6,230.0 343.9,230.7 342.4,232.9 341.7,234.7 341.1,236.2 341.0,237.3 340.3,240.2 340.1,242.4 340.1,246.7 340.1,248.9 340.6,251.1 341.1,252.0 341.9,252.0 342.4,251.1 343.2,248.9 343.5,246.7 343.9,242.4 345.4,240.2 346.1,237.3 346.8,236.2 355.6,234.7 357.8,232.9 359.2,230.7 361.1,230.0 361.1,224.1 360.0,222.7 358.5,220.5 357.0,219.0"/>
<polygon fill="#ffff00" points="387.3,233.2 386.2,235.1 384.8,236.9 365.1,238.0 364.0,240.2 363.2,242.4 363.2,247.8 363.2,248.2 363.2,249.7 363.2,250.4 364.3,251.5 368.7,252.9 370.2,254.8 372.0,257.0 378.9,257.8 379.7,258.8 384.1,258.8 384.1,257.8 384.1,257.0 384.1,254.8 384.1,252.9 384.1,251.5 384.8,250.4 384.9,249.7 386.2,248.2 388.0,247.8 388.0,242.4 388.0,240.2 388.0,238.0 388.0,236.9 388.0,235.1 388.0,233.2"/>
<polygon fill="#ffff00" points="367.6,235.1 366.2,236.5 365.1,238.0 373.1,238.0 372.4,236.5 369.8,235.1"/>
<polygon fill="#ffff00" points="376.0,236.5 375.3,238.0 379.7,238.0 378.2,236.5"/>
<polygon fill="#ffff00" points="387.0,258.1 385.9,259.9 385.2,261.0 385.2,263.0 388.0,263.0 388.0,261.0 388.0,259.9 388.0,258.1"/>
<polygon fill="#ffff00" points="350.1,250.0 349.0,251.1 347.2,252.6 343.2,254.0 343.0,255.5 342.4,257.7 342.1,259.2 341.9,263.0 364.0,263.0 364.0,259.2 363.2,257.7 362.2,255.5 360.7,254.0 359.2,252.6 358.1,251.1 351.9,250.0"/>
</g>
<g clip-path="url(#c22)">
<polygon fill="#ffff00" points="401.9,219.0 401.9,221.9 401.9,224.0 401.9,224.1 401.9,224.8 401.9,227.0 401.9,228.5 401.9,230.0 401.9,230.7 403.7,230.7 416.1,230.0 417.9,228.5 420.7,227.0 421.4,224.8 422.3,224.1 429.2,224.0 428.2,221.9 428.0,219.0"/>
<polygon fill="#ffff00" points="423.8,224.0 425.2,225.6 427.1,227.4 428.0,229.2 428.0,231.4 426.7,233.6 426.1,238.0 427.1,240.2 428.2,241.8 429.0,241.8 430.0,240.2 430.2,238.0 430.7,233.6 431.8,231.4 431.8,229.2 431.1,227.4 430.0,225.6 429.2,224.0"/>
<polygon fill="#ffff00" points="390.9,225.9 389.1,228.5 388.0,230.7 388.0,231.8 397.5,231.8 395.3,230.7 394.2,228.5 392.7,225.9"/>
<polygon fill="#ffff00" points="401.5,228.5 399.7,230.0 396.0,231.8 403.0,231.8 402.6,230.0 402.2,228.5"/>
<polygon fill="#ffff00" points="388.0,231.8 388.0,235.8 388.0,238.0 388.0,240.2 388.0,242.4 388.0,244.2 388.0,246.0 388.0,247.8 395.7,250.5 396.8,250.5 397.3,247.8 397.9,246.0 398.4,244.2 399.0,242.4 399.7,240.2 401.1,238.0 402.6,235.8 403.0,231.8"/>
<polygon fill="#00f0ff" points="390.9,244.2 389.6,246.0 388.0,247.8 388.0,250.8 395.7,250.8 395.3,247.8 393.8,246.0 392.7,244.2"/>
<polygon fill="#ffff00" points="395.7,254.0 394.9,256.2 394.2,257.7 394.0,259.9 393.8,261.0 399.7,261.0 399.0,259.9 397.9,257.7 397.3,256.2 396.9,254.0"/>
<polygon fill="#ffff00" points="388.0,258.4 388.0,258.8 388.0,261.0 388.0,263.0 390.9,263.0 390.8,261.0 389.6,258.8 389.1,258.4"/>
<polygon fill="#ffff00" points="403.0,254.4 402.2,255.9 401.5,257.0 400.4,258.8 415.2,258.8 410.8,257.0 408.6,255.9 407.0,254.4"/>
<polygon fill="#ffff00" points="417.2,246.2 416.1,247.1 415.0,248.6 415.0,249.1 415.0,250.4 415.0,253.3 415.0,257.0 400.4,258.8 390.6,261.0 388.0,263.0 435.5,263.0 435.1,261.0 434.9,258.8 434.7,257.0 433.3,253.3 430.0,250.4 429.3,249.1 423.0,248.6 421.7,247.1 420.9,246.2"/>
<polygon fill="#ffff00" points="427.1,246.0 426.2,247.5 425.6,249.1 429.3,249.1 428.5,247.5 427.8,246.0"/>
<polygon fill="#00f0ff" points="426.0,261.0 426.0,263.0 428.0,263.0 427.4,261.0"/>
<polygon fill="#ffff00" points="434.0,233.2 433.3,234.3 434.1,235.8 434.1,238.3 434.1,241.6 434.1,243.8 434.1,244.6 434.1,246.7 434.1,248.2 435.5,251.1 437.6,252.6 439.1,255.5 440.6,259.9 440.9,263.0 454.0,263.0 454.0,259.9 454.0,255.5 454.0,252.6 454.0,251.1 454.0,248.2 453.0,246.7 453.0,244.6 442.4,243.8 440.9,241.6 439.8,238.3 438.4,235.8 437.1,234.3 436.2,233.2"/>
<polygon fill="#ffff00" points="447.9,230.0 447.1,232.1 445.8,234.3 444.9,236.9 444.9,244.6 453.0,244.6 452.6,236.9 450.8,234.3 449.7,232.1 449.0,230.0"/>
<polygon fill="#00f0ff" points="444.9,247.1 444.9,248.2 445.3,251.9 445.7,255.5 446.0,259.2 446.4,263.0 451.2,263.0 450.8,259.2 450.1,255.5 449.0,251.9 446.4,248.2 445.7,247.1"/>
<polygon fill="#ffff00" points="453.0,221.2 452.1,223.4 452.6,225.6 453.0,230.0 454.0,230.0 454.0,225.6 454.0,223.4 454.0,221.2"/>
</g>
<g clip-path="url(#c32)">
<polygon fill="#ffff00" points="454.0,221.9 454.0,222.7 454.0,223.2 454.0,224.8 454.0,227.0 454.0,230.0 454.0,232.1 457.3,232.9 458.4,234.3 459.5,238.0 461.3,240.5 463.5,243.1 465.0,245.6 466.0,245.6 466.0,243.1 466.0,240.5 466.0,238.0 466.0,234.3 466.0,232.9 466.0,232.1 464.6,230.0 463.9,227.0 461.7,224.8 461.3,223.2 455.8,222.7 454.7,221.9"/>
<polygon fill="#00f0ff" points="455.8,222.7 456.6,224.8 457.3,224.8 458.4,222.7"/>
<polygon fill="#ffff00" points="463.9,219.0 465.0,221.9 465.7,226.3 467.9,228.9 471.9,229.2 473.3,232.1 475.2,234.3 476.3,238.0 477.0,242.4 477.4,244.6 479.6,247.5 479.9,250.8 485.0,250.8 482.5,247.5 481.4,244.6 480.6,242.4 479.6,238.0 478.1,234.3 477.7,232.1 477.5,229.2 477.4,228.9 475.9,226.3 474.1,221.9 473.0,219.0"/>
<polygon fill="#ffff00" points="475.9,219.0 476.8,220.8 485.8,221.2 487.0,221.9 488.5,224.1 489.9,227.0 492.1,230.0 493.6,232.1 496.5,232.9 498.7,235.8 500.1,238.3 503.1,239.1 504.5,240.9 506.0,243.8 506.0,248.9 504.5,249.3 504.4,252.2 504.4,253.3 504.5,254.0 505.1,257.0 506.6,257.0 506.7,254.0 511.7,253.3 520.0,252.2 520.0,249.3 520.0,248.9 520.0,243.8 520.0,240.9 520.0,239.1 520.0,238.3 520.0,235.8 520.0,232.9 520.0,232.1 520.0,230.0 520.0,227.0 520.0,224.1 520.0,221.9 520.0,221.2 520.0,220.8 517.2,219.0"/>
<polygon fill="#ffff00" points="508.8,253.3 509.5,255.1 510.9,255.1 511.7,253.3"/>
<polygon fill="#ffff00" points="512.4,252.2 513.9,253.3 516.1,257.0 518.2,258.8 520.0,258.8 520.0,257.0 520.0,253.3 520.0,252.2"/>
<polygon fill="#00f0ff" points="518.1,240.2 518.2,243.8 519.3,245.6 520.0,245.6 520.0,243.8 520.0,240.2"/>
<polygon fill="#00f0ff" points="508.0,227.8 508.0,230.0 508.9,230.0 508.9,227.8"/>
<polygon fill="#ffff00" points="476.8,220.8 477.4,222.7 479.2,226.3 481.6,228.9 481.7,230.7 482.1,233.6 482.8,236.5 483.6,240.2 484.8,243.1 485.0,246.0 479.9,251.1 480.1,254.0 480.3,256.2 481.2,259.2 482.5,263.0 497.1,263.0 497.1,259.2 496.3,256.2 496.0,254.0 494.9,251.1 494.2,246.0 492.0,243.1 490.5,240.2 486.9,236.5 486.1,233.6 483.9,230.7 482.8,228.9 482.1,226.3 482.1,222.7 483.2,220.8"/>
<polygon fill="#00f0ff" points="486.1,257.0 486.1,259.9 486.1,263.0 490.1,263.0 488.7,259.9 487.2,257.0"/>
<polygon fill="#ffff00" points="473.0,248.9 473.0,252.9 474.1,252.9 474.1,248.9"/>
<polygon fill="#ffff00" points="474.8,260.0 474.8,261.2 475.9,261.2 475.9,260.0"/>
<polygon fill="#ffff00" points="454.0,252.9 454.0,255.5 454.0,258.8 454.0,263.0 457.1,263.0 456.9,258.8 455.8,255.5 454.9,252.9"/>
</g>
<g clip-path="url(#c42)">
<rect x="520" y="219" width="66" height="44" fill="#ffff00"/>
<polygon fill="#00f0ff" points="520.0,219.0 520.0,221.9 524.0,221.9 524.0,219.0"/>
<polygon fill="#00f0ff" points="537.2,219.0 536.1,221.9 536.1,228.5 536.1,229.2 536.8,231.4 538.3,233.6 541.9,234.9 544.1,234.9 544.1,233.6 544.1,231.4 544.1,229.2 543.4,228.5 542.6,221.9 541.9,219.0"/>
<polygon fill="#00f0ff" points="543.0,219.0 543.7,221.2 544.8,222.7 545.6,224.0 550.7,224.0 552.5,222.7 553.6,221.2 555.0,219.0"/>
<polygon fill="#00f0ff" points="560.0,220.1 559.1,222.7 559.4,225.6 560.0,227.0 560.5,229.2 562.0,230.0 563.1,230.0 563.1,229.2 563.1,227.0 562.3,225.6 562.0,222.7 560.9,220.1"/>
<polygon fill="#00f0ff" points="533.5,236.2 529.1,238.1 529.1,240.9 529.1,244.6 520.0,244.9 520.0,247.5 520.0,248.9 520.7,250.4 522.6,253.3 524.0,255.5 524.0,257.7 524.0,260.6 524.0,263.0 549.9,263.0 549.9,260.6 547.7,257.7 545.6,255.5 543.4,253.3 541.9,250.4 540.8,248.9 539.7,247.5 538.4,244.9 538.3,244.6 537.2,240.9 536.1,238.1 535.0,236.2"/>
<polygon fill="#00f0ff" points="520.0,240.2 520.0,242.0 520.0,242.7 520.0,244.9 529.1,244.9 525.5,242.7 523.7,242.0 521.8,240.2"/>
<polygon fill="#00f0ff" points="520.0,261.0 520.0,263.0 522.2,263.0 521.8,261.0"/>
<polygon fill="#00f0ff" points="553.2,248.9 552.1,249.7 552.1,250.0 552.5,252.9 552.9,257.0 554.3,259.9 555.0,263.0 572.9,263.0 572.9,259.9 572.9,257.0 572.2,252.9 568.9,250.0 558.0,249.7 553.9,248.9"/>
<polygon fill="#00f0ff" points="558.0,242.2 558.0,244.2 558.0,246.7 558.0,247.1 558.0,250.0 568.9,250.0 568.9,247.1 565.6,246.7 563.8,244.2 563.1,242.2"/>
<polygon fill="#00f0ff" points="567.5,244.9 565.6,247.1 568.9,247.1 568.9,244.9"/>
<polygon fill="#00f0ff" points="580.6,228.1 579.1,231.0 578.8,232.1 577.7,234.3 576.2,237.3 575.6,238.7 574.4,242.4 574.0,243.8 573.9,244.2 572.9,246.0 572.9,263.0 586.0,263.0 586.0,246.0 586.0,244.2 582.8,243.8 581.0,242.4 581.0,238.7 582.1,237.3 582.9,234.3 583.9,232.1 583.2,231.0 582.8,228.1"/>
<polygon fill="#ffff00" points="576.2,250.0 575.3,250.8 574.8,251.9 574.4,253.3 572.9,256.2 572.9,263.0 581.0,263.0 581.0,256.2 581.0,253.3 581.0,251.9 579.3,250.8 578.4,250.0"/>
<polygon fill="#ffff00" points="585.0,243.8 585.0,250.0 586.0,250.0 586.0,243.8"/>
<polygon fill="#00f0ff" points="585.0,238.3 585.0,241.6 584.2,243.8 586.0,243.8 586.0,241.6 586.0,238.3"/>
</g>
<g clip-path="url(#c52)">
<polygon fill="#ffff00" points="586.0,219.0 586.0,220.8 586.0,221.9 586.0,224.1 586.0,226.3 586.0,230.0 586.0,232.9 586.0,234.7 586.1,234.7 587.5,232.9 589.3,230.0 590.4,226.3 592.9,224.1 594.4,221.9 600.2,220.8 601.0,219.0"/>
<polygon fill="#ffff00" points="596.2,220.8 597.7,221.8 599.5,221.8 600.2,220.8"/>
<polygon fill="#ffff00" points="603.9,219.0 603.5,222.3 602.9,223.4 602.1,225.2 601.0,227.8 601.0,230.0 601.0,232.5 608.8,232.5 610.1,230.0 618.9,227.8 618.9,225.2 617.5,223.4 617.0,222.3 615.9,219.0"/>
<polygon fill="#ffff00" points="611.9,225.2 613.0,227.8 613.0,231.4 614.5,233.6 617.0,233.6 618.1,231.4 618.9,227.8 618.9,225.2"/>
<polygon fill="#00f0ff" points="610.2,225.2 610.2,227.8 610.2,232.5 613.0,232.5 613.0,227.8 611.9,225.2"/>
<polygon fill="#00f0ff" points="603.5,230.7 602.4,232.6 607.2,232.6 605.7,230.7"/>
<polygon fill="#ffff00" points="621.0,224.1 621.0,227.0 622.1,227.0 622.1,224.1"/>
<polygon fill="#ffff00" points="624.0,219.0 624.3,219.9 626.5,219.9 626.9,219.0"/>
<polygon fill="#ffff00" points="633.5,225.2 632.0,226.3 630.2,228.5 629.4,230.7 629.1,233.6 628.0,236.5 626.5,238.7 626.2,240.9 626.3,243.8 626.9,244.9 627.8,244.9 628.0,243.8 628.7,240.9 630.2,238.7 632.0,236.5 633.1,233.6 634.2,230.7 634.6,228.5 634.9,226.3 634.9,225.2"/>
<polygon fill="#ffff00" points="640.8,232.1 640.4,233.6 639.3,236.2 637.1,237.3 636.0,239.4 634.8,242.2 647.0,242.2 647.0,239.4 647.0,237.3 647.0,236.2 647.0,233.6 647.0,232.1"/>
<polygon fill="#ffff00" points="634.8,242.2 633.8,243.8 632.7,246.7 632.1,248.2 632.1,251.1 632.1,252.6 633.5,253.7 635.6,253.7 635.8,252.6 636.0,251.1 637.1,248.2 639.3,246.7 640.4,243.8 641.6,242.2"/>
<polygon fill="#ffff00" points="641.6,242.2 642.6,243.8 643.7,246.7 644.4,249.7 645.1,251.1 645.1,255.5 642.9,256.2 641.5,257.7 640.0,259.2 640.0,263.0 647.0,263.0 647.0,259.2 647.0,257.7 647.0,256.2 647.0,255.5 647.0,251.1 647.0,249.7 647.0,246.7 647.0,243.8 647.0,242.2"/>
<polygon fill="#00f0ff" points="642.2,232.1 643.7,233.2 644.8,233.5 645.5,233.5 646.6,233.2 647.0,232.1"/>
<polygon fill="#ffff00" points="589.7,238.1 587.8,240.5 586.0,240.9 586.0,246.7 586.0,249.7 586.0,251.0 587.5,251.1 588.9,252.6 589.3,256.2 590.4,258.1 591.7,258.1 592.6,256.2 594.2,252.6 594.9,251.1 595.1,251.0 595.9,249.7 597.0,246.7 597.0,240.9 597.0,240.5 597.0,238.1"/>
<polygon fill="#ffff00" points="599.9,250.0 598.8,252.6 598.0,255.5 598.0,256.2 599.5,258.4 599.9,263.0 606.1,263.0 608.3,258.4 609.4,256.2 603.5,255.5 602.4,252.6 601.7,250.0"/>
<polygon fill="#ffff00" points="609.4,249.1 607.2,251.9 605.0,255.5 604.3,256.2 609.0,256.2 609.4,255.5 611.2,251.9 611.9,249.1"/>
<polygon fill="#ffff00" points="622.1,254.0 622.1,254.8 622.1,258.4 622.3,259.9 622.7,261.3 623.2,263.0 627.0,263.0 626.3,261.3 625.6,259.9 624.8,258.4 623.4,254.8 622.9,254.0"/>
<polygon fill="#ffff00" points="630.2,258.8 629.4,261.3 629.1,263.0 630.9,263.0 630.9,261.3 630.9,258.8"/>
</g>
<g clip-path="url(#c03)">
<polygon fill="#ffff00" points="256.0,263.0 256.0,264.8 256.0,268.5 256.0,269.2 256.0,269.7 257.1,269.7 258.9,269.2 259.8,268.5 260.0,264.8 260.9,263.0"/>
<polygon fill="#ffff00" points="258.0,276.9 258.0,279.1 259.1,279.1 259.1,276.9"/>
<polygon fill="#ffff00" points="256.0,280.9 256.0,285.0 257.8,285.0 257.8,280.9"/>
<polygon fill="#ffff00" points="265.9,263.0 264.9,264.8 263.8,266.7 262.9,268.5 262.9,269.6 262.0,274.0 262.0,277.6 262.0,278.3 261.8,281.3 261.1,282.0 260.4,283.4 260.0,285.0 260.0,286.1 260.0,297.0 261.1,297.8 261.8,297.8 262.9,297.0 262.9,286.1 263.8,285.0 264.8,283.4 265.5,282.0 265.9,281.3 265.9,278.3 266.6,277.6 267.0,274.0 267.0,269.6 267.7,268.5 268.0,266.7 268.0,264.8 268.0,263.0"/>
<polygon fill="#ffff00" points="270.0,263.0 270.0,264.8 270.0,266.7 270.0,267.7 269.1,268.8 269.1,270.3 269.1,272.9 270.0,274.0 270.0,277.6 269.1,278.0 269.0,283.8 269.1,284.2 269.9,284.2 270.0,283.8 270.0,278.0 271.0,277.6 271.0,274.0 271.3,272.9 272.1,270.3 272.8,268.8 273.2,267.7 273.9,266.7 275.0,264.8 275.9,263.0"/>
<polygon fill="#ffff00" points="279.0,263.0 279.0,264.8 279.0,268.5 279.0,269.6 279.0,271.8 279.0,272.1 277.9,273.6 277.0,275.8 277.0,277.6 275.1,279.8 275.0,283.4 273.2,284.0 272.2,285.0 272.1,286.8 272.1,287.2 272.1,289.7 272.1,292.8 271.0,293.1 271.0,297.0 271.0,297.4 271.0,304.0 271.0,304.3 271.0,307.0 274.8,307.0 275.0,304.3 275.9,304.0 275.9,297.4 277.0,297.0 277.0,293.1 277.0,292.8 277.0,289.7 275.9,287.2 279.0,286.8 279.0,285.0 279.9,284.0 279.9,283.4 279.9,279.8 280.1,277.6 280.8,275.8 281.0,273.6 281.0,272.1 281.7,271.8 281.9,269.6 283.0,268.5 283.2,264.8 283.7,263.0"/>
<polygon fill="#ffff00" points="256.0,285.0 256.0,286.8 256.0,293.7 256.0,294.1 256.0,307.0 257.8,307.0 258.0,294.1 258.9,293.7 258.9,286.8 258.2,285.0"/>
<polygon fill="#ffff00" points="262.0,297.0 262.0,301.8 262.0,302.1 262.0,302.9 262.0,305.1 262.0,307.0 265.1,307.0 265.1,305.1 264.9,302.9 264.0,302.1 264.9,301.8 264.9,297.0"/>
<polygon fill="#ffff00" points="259.1,299.9 259.1,301.0 259.1,305.1 259.1,307.0 260.9,307.0 260.9,305.1 260.9,301.0 259.8,299.9"/>
<polygon fill="#ffff00" points="268.0,290.1 267.0,291.2 267.0,302.9 267.7,303.2 268.0,307.0 268.9,307.0 268.9,303.2 268.9,302.9 268.9,291.2 268.9,290.1"/>
<polygon fill="#ffff00" points="278.0,295.2 277.9,297.0 277.2,297.8 277.2,300.7 277.2,301.8 277.2,307.0 281.9,307.0 281.6,301.8 280.1,300.7 279.9,297.8 279.7,297.0 279.0,295.2"/>
<polygon fill="#ffff00" points="288.1,263.0 287.0,266.7 285.9,271.0 285.6,277.6 285.2,284.9 285.1,292.2 285.0,307.0 289.9,307.0 289.9,292.2 290.3,284.9 291.0,277.6 291.4,271.0 292.4,266.7 293.2,263.0"/>
<polygon fill="#ffff00" points="298.0,263.0 297.2,270.3 296.6,276.9 296.5,277.6 296.4,279.8 296.3,282.0 296.2,287.1 296.2,290.7 296.2,294.4 296.2,299.5 296.2,302.4 296.2,307.0 314.0,307.0 314.4,302.4 315.5,299.5 316.2,294.4 317.3,290.7 318.4,287.1 318.8,282.0 320.2,279.8 321.1,277.6 322.0,276.9 322.0,270.3 322.0,263.0"/>
<polygon fill="#00f0ff" points="304.8,298.0 303.8,300.2 303.1,302.4 303.1,307.0 308.2,307.0 308.0,302.4 307.5,300.2 306.5,298.0"/>
<polygon fill="#00f0ff" points="307.8,263.0 308.6,264.8 309.7,266.1 310.8,266.1 312.2,264.8 312.9,263.0"/>
</g>
<g clip-path="url(#c13)">
<rect x="322" y="263" width="66" height="44" fill="#ffff00"/>
<polygon fill="#00f0ff" points="322.0,263.0 322.0,265.9 322.0,269.6 322.0,272.5 322.0,274.7 322.0,275.0 322.0,276.9 322.0,279.1 322.0,284.9 322.0,290.7 322.0,301.7 322.0,302.4 322.0,307.0 324.9,307.0 325.1,302.4 326.0,301.7 326.5,290.7 327.3,284.9 328.2,279.1 329.3,276.9 331.1,275.0 337.0,274.7 337.7,272.5 339.2,269.6 341.1,265.9 341.7,263.0"/>
<polygon fill="#ffff00" points="322.0,265.9 322.0,274.7 322.7,274.7 322.7,265.9"/>
<polygon fill="#00f0ff" points="354.9,271.0 352.3,272.9 351.2,275.0 349.2,278.3 348.1,280.9 347.2,283.4 346.2,287.8 345.2,292.9 345.0,297.3 345.0,298.0 344.8,301.7 344.0,302.4 343.9,307.0 358.1,307.0 358.1,302.4 358.1,301.7 358.1,298.0 358.9,297.3 358.9,292.9 358.9,287.8 358.9,283.4 358.9,280.9 358.9,278.3 358.9,275.0 357.8,272.9 356.3,271.0"/>
<polygon fill="#00f0ff" points="337.7,290.0 337.0,291.1 337.0,292.2 337.0,296.2 336.0,298.0 335.9,301.7 335.9,302.4 335.9,307.0 341.9,307.0 341.9,302.4 341.3,301.7 341.1,298.0 340.8,296.2 340.1,292.2 339.5,291.1 338.9,290.0"/>
<polygon fill="#00f0ff" points="364.0,263.0 364.2,267.7 364.9,268.8 365.1,269.2 365.2,270.3 365.8,271.8 367.6,274.0 369.8,274.0 370.6,271.8 372.4,270.3 376.2,269.2 384.6,268.8 384.9,267.7 384.9,263.0"/>
<polygon fill="#00f0ff" points="376.0,268.8 376.4,269.9 380.4,270.7 384.1,270.7 384.2,269.9 384.6,268.8"/>
</g>
<g clip-path="url(#c23)">
<rect x="388" y="263" width="66" height="44" fill="#ffff00"/>
<polygon fill="#00f0ff" points="403.7,284.2 398.2,284.9 397.9,287.1 397.1,288.6 396.9,292.2 396.0,292.9 396.0,301.7 396.0,302.4 396.0,304.6 397.1,305.3 397.1,307.0 408.8,307.0 408.8,305.3 408.8,304.6 408.8,302.4 407.9,301.7 407.9,292.9 407.7,292.2 406.8,288.6 405.9,287.1 405.5,284.9 405.2,284.2"/>
<polygon fill="#ffff00" points="401.0,284.2 401.1,285.8 401.9,285.8 402.2,284.2"/>
<polygon fill="#00f0ff" points="415.2,284.9 414.6,286.4 413.2,288.2 412.8,292.2 411.9,292.9 411.9,295.1 411.9,297.3 411.9,299.5 411.9,302.4 411.9,303.9 411.9,307.0 431.1,307.0 431.1,303.9 427.1,302.4 425.6,299.5 424.9,297.3 423.8,295.1 422.9,292.9 422.7,292.2 421.7,288.2 420.1,286.4 419.0,284.9"/>
<polygon fill="#00f0ff" points="425.2,263.0 424.5,265.9 423.0,268.1 423.2,270.3 424.1,272.5 424.5,274.0 425.2,277.6 426.7,280.5 427.1,281.3 428.2,283.4 430.7,286.4 431.8,289.3 431.8,290.7 431.8,299.5 431.8,301.0 431.1,303.9 431.1,307.0 442.8,307.0 442.0,303.9 442.0,301.0 440.9,299.5 440.2,290.7 440.0,289.3 439.1,286.4 438.5,283.4 436.2,281.3 433.3,280.5 431.7,277.6 431.1,274.0 430.7,272.5 430.2,270.3 429.2,268.1 428.2,265.9 428.0,263.0"/>
<polygon fill="#00f0ff" points="435.8,263.0 436.9,265.2 437.6,268.8 439.1,271.8 442.0,274.7 443.1,278.3 444.9,280.5 445.7,283.4 445.8,284.9 446.4,288.6 447.5,292.2 448.2,293.7 448.2,307.0 454.0,307.0 454.0,293.7 454.0,292.2 454.0,288.6 454.0,284.9 453.0,283.4 453.0,280.5 446.6,278.3 445.7,274.7 444.2,271.8 442.9,268.8 441.9,265.2 440.9,263.0"/>
<polygon fill="#00f0ff" points="447.1,263.0 447.1,266.7 447.9,268.1 447.9,271.8 447.9,276.1 447.1,280.5 453.0,280.5 453.0,276.1 453.0,271.8 451.9,268.1 450.9,266.7 450.8,263.0"/>
<polygon fill="#ffff00" points="450.1,284.9 450.1,290.7 450.9,290.7 450.9,284.9"/>
<polygon fill="#ffff00" points="451.9,287.1 451.9,301.0 453.0,301.0 453.0,287.1"/>
<polygon fill="#ffff00" points="449.0,300.2 449.0,307.0 450.1,307.0 450.1,300.2"/>
<polygon fill="#ffff00" points="452.2,305.0 452.2,307.0 453.0,307.0 453.0,305.0"/>
</g>
<g clip-path="url(#c33)">
<polygon fill="#ffff00" points="454.0,263.0 454.0,265.2 454.0,271.0 454.0,274.0 454.0,282.7 455.1,283.4 456.2,284.9 457.1,287.1 457.1,301.7 457.1,302.4 457.1,307.0 460.9,307.0 460.9,302.4 461.9,301.7 461.9,287.1 461.9,284.9 459.1,283.4 459.1,282.7 459.1,274.0 459.8,271.0 459.0,265.2 458.0,263.0"/>
<polygon fill="#ffff00" points="455.1,300.2 455.1,303.9 455.8,303.9 455.8,300.2"/>
<polygon fill="#ffff00" points="465.0,275.0 464.2,276.5 463.9,282.0 463.1,282.7 463.1,290.7 463.1,291.5 463.1,296.6 463.1,297.3 463.1,307.0 466.0,307.0 466.0,297.3 467.0,296.6 467.0,291.5 467.9,290.7 467.9,282.7 467.0,282.0 467.0,276.5 466.0,275.0"/>
<polygon fill="#ffff00" points="469.0,265.2 468.2,267.4 469.2,268.5 469.2,271.0 470.1,276.1 470.1,286.4 469.0,286.7 469.0,290.7 468.0,291.5 468.0,295.9 468.0,296.6 468.0,307.0 471.9,307.0 471.9,296.6 473.0,295.9 473.0,291.5 473.0,290.7 473.0,286.7 473.0,286.4 472.8,276.1 471.9,271.0 470.9,268.5 470.1,267.4 469.9,265.2"/>
<polygon fill="#ffff00" points="477.0,275.0 477.0,276.9 475.9,278.0 475.9,281.3 475.9,286.4 476.0,290.0 477.0,290.7 477.0,294.4 477.0,307.0 483.9,307.0 483.9,294.4 482.8,290.7 482.1,290.0 481.7,286.4 480.9,281.3 479.9,278.0 479.7,276.9 478.8,275.0"/>
<polygon fill="#ffff00" points="483.2,263.0 484.3,265.9 485.4,269.6 486.0,270.3 486.0,271.8 487.0,271.8 487.0,270.3 486.1,269.6 486.1,265.9 486.1,263.0"/>
<polygon fill="#ffff00" points="490.1,263.0 490.9,265.2 492.0,268.1 492.7,268.8 493.4,270.9 496.7,270.9 497.4,268.8 498.2,268.1 498.2,265.2 497.1,263.0"/>
<polygon fill="#ffff00" points="501.1,284.9 500.1,287.1 500.1,291.5 501.1,292.2 501.1,295.9 502.0,295.9 502.0,292.2 502.0,291.5 502.0,287.1 502.0,284.9"/>
<polygon fill="#ffff00" points="504.0,288.9 503.3,290.4 503.1,295.9 503.6,296.6 502.2,300.2 501.8,302.8 503.3,302.8 504.4,300.2 505.1,296.6 506.0,295.9 506.0,290.4 505.0,288.9"/>
<polygon fill="#ffff00" points="501.1,303.9 501.1,305.2 502.0,305.2 502.0,303.9"/>
<polygon fill="#ffff00" points="513.0,296.2 513.0,307.0 514.0,307.0 514.0,296.2"/>
<polygon fill="#ffff00" points="515.0,296.2 515.0,297.3 515.0,301.7 515.0,302.4 515.0,307.0 516.1,307.0 516.1,302.4 516.9,301.7 516.9,297.3 516.1,296.2"/>
<polygon fill="#ffff00" points="519.0,297.3 518.1,298.0 518.1,304.6 519.0,305.3 519.0,307.0 520.0,307.0 520.0,305.3 520.0,304.6 520.0,298.0 520.0,297.3"/>
</g>
<g clip-path="url(#c43)">
<polygon fill="#ffff00" points="522.0,263.0 522.0,264.5 522.0,268.8 522.9,271.8 524.0,274.0 524.2,275.8 525.8,275.8 526.0,274.0 526.0,271.8 526.0,268.8 525.1,264.5 524.2,263.0"/>
<polygon fill="#ffff00" points="531.1,279.1 530.1,280.9 530.1,285.6 531.0,286.4 531.0,287.8 531.8,287.8 532.0,286.4 532.8,285.6 533.0,280.9 533.0,279.1"/>
<polygon fill="#ffff00" points="539.9,265.2 539.9,267.4 540.4,270.3 541.2,274.0 541.2,277.6 543.0,281.3 543.4,284.9 544.5,288.6 545.2,291.5 544.1,298.0 543.0,300.2 542.3,302.4 542.0,307.0 547.0,307.0 547.0,302.4 547.0,300.2 547.0,298.0 547.0,291.5 546.1,288.6 545.2,284.9 544.8,281.3 543.9,277.6 543.9,274.0 542.8,270.3 541.9,267.4 541.0,265.2"/>
<polygon fill="#ffff00" points="536.2,284.2 535.0,286.4 535.0,298.0 533.9,298.4 533.1,301.7 532.4,302.4 532.0,307.0 540.1,307.0 540.1,302.4 540.1,301.7 540.1,298.4 540.1,298.0 540.1,286.4 539.1,284.2"/>
<polygon fill="#00f0ff" points="536.9,304.2 536.9,307.0 537.9,307.0 537.9,304.2"/>
<polygon fill="#ffff00" points="530.1,295.1 529.1,296.2 529.1,307.0 531.0,307.0 531.0,296.2 531.0,295.1"/>
<polygon fill="#ffff00" points="521.1,295.1 520.9,296.2 520.0,298.0 520.0,298.8 520.0,307.0 526.9,307.0 526.9,298.8 524.0,298.0 523.7,296.2 522.0,295.1"/>
<polygon fill="#ffff00" points="549.9,284.9 549.1,287.1 549.1,290.0 549.1,301.0 549.9,301.7 549.9,307.0 552.0,307.0 552.0,301.7 552.0,301.0 552.0,290.0 551.0,287.1 551.0,284.9"/>
<polygon fill="#ffff00" points="551.0,263.0 552.9,264.8 553.2,266.7 554.7,266.7 554.9,264.8 554.9,263.0"/>
<polygon fill="#ffff00" points="559.1,266.3 558.0,267.4 558.3,272.5 559.8,275.4 561.2,278.3 562.7,282.0 564.5,285.6 565.8,285.6 564.9,282.0 563.8,278.3 562.0,275.4 560.9,272.5 560.0,267.4 560.0,266.3"/>
<polygon fill="#ffff00" points="567.1,278.0 566.1,280.5 566.0,282.0 566.0,287.8 565.6,288.6 568.2,288.6 568.6,287.8 569.1,282.0 570.0,280.5 570.0,278.0"/>
<polygon fill="#ffff00" points="558.0,282.0 558.0,286.4 559.1,286.4 559.1,282.0"/>
<polygon fill="#ffff00" points="556.9,286.4 556.9,287.1 556.9,290.0 556.9,295.9 556.9,296.2 556.9,298.8 556.9,299.1 556.9,301.0 558.0,301.3 558.0,303.9 558.7,304.2 558.7,307.0 566.1,307.0 566.1,304.2 566.1,303.9 566.1,301.3 566.1,301.0 566.1,299.1 567.1,298.8 567.1,296.2 568.2,295.9 568.2,290.0 559.8,287.1 559.8,286.4"/>
<polygon fill="#ffff00" points="560.9,285.6 560.9,288.6 559.8,290.0 568.2,290.0 568.2,288.6 565.8,285.6"/>
<polygon fill="#00f0ff" points="563.8,303.9 563.8,307.0 564.9,307.0 564.9,303.9"/>
<polygon fill="#ffff00" points="572.9,263.0 572.9,265.9 573.7,267.4 574.4,268.8 576.2,268.8 578.4,267.4 579.5,265.9 579.9,263.0"/>
<polygon fill="#ffff00" points="582.9,265.9 582.1,267.4 581.2,270.3 581.2,272.5 581.2,274.0 580.2,276.1 579.9,278.0 578.4,280.5 576.9,282.0 576.9,287.8 576.9,288.6 576.9,298.8 578.0,299.5 578.4,302.4 579.9,303.2 580.2,307.0 582.1,307.0 582.1,303.2 581.0,302.4 581.0,299.5 581.0,298.8 581.0,288.6 582.1,287.8 582.1,282.0 582.1,280.5 582.1,278.0 582.9,276.1 583.5,274.0 586.0,272.5 586.0,270.3 585.0,267.4 584.1,265.9"/>
<polygon fill="#ffff00" points="584.1,296.2 584.1,301.0 585.0,301.7 585.0,307.0 586.0,307.0 586.0,301.7 586.0,301.0 586.0,296.2"/>
<polygon fill="#ffff00" points="574.0,292.9 574.0,296.6 573.4,301.0 573.2,302.8 574.0,307.0 575.1,307.0 575.1,302.8 575.9,301.0 575.9,296.6 574.9,292.9"/>
<polygon fill="#ffff00" points="570.0,302.8 569.1,303.9 569.1,307.0 571.0,307.0 571.0,303.9 571.0,302.8"/>
</g>
<g clip-path="url(#c53)">
<polygon fill="#ffff00" points="588.9,278.0 588.2,279.1 588.0,286.4 587.1,287.1 586.9,295.1 586.0,296.2 586.0,301.0 586.0,302.4 586.0,307.0 594.8,307.0 594.0,302.4 593.3,301.0 592.9,296.2 592.9,295.1 592.9,287.1 592.9,286.4 592.9,279.1 590.7,278.0"/>
<polygon fill="#ffff00" points="599.1,263.0 598.0,265.9 597.0,268.1 595.1,269.2 595.1,270.3 595.1,275.4 595.1,276.1 595.3,279.8 597.0,281.3 597.0,294.4 597.0,295.1 597.0,296.6 597.0,307.0 601.0,307.0 601.0,296.6 602.9,295.1 601.9,294.4 601.9,281.3 601.7,279.8 601.7,276.1 602.6,275.4 603.2,270.3 604.1,269.2 604.3,268.1 605.1,265.9 606.1,263.0"/>
<polygon fill="#00f0ff" points="597.8,279.1 597.8,282.7 599.0,282.7 599.0,279.1"/>
<polygon fill="#ffff00" points="602.1,295.1 602.2,299.5 602.9,299.5 602.9,295.1"/>
<polygon fill="#ffff00" points="607.2,284.2 606.1,285.6 606.1,290.0 606.1,290.7 606.1,296.6 606.8,297.3 606.8,307.0 611.0,307.0 611.0,297.3 611.0,296.6 611.0,290.7 610.1,290.0 609.9,285.6 609.0,284.2"/>
<polygon fill="#ffff00" points="619.9,269.9 619.7,271.0 617.4,272.5 615.2,273.2 615.1,274.0 615.1,276.9 615.1,277.6 615.1,282.0 614.1,282.3 614.1,285.6 614.1,287.8 614.1,299.5 615.1,301.0 615.1,307.0 618.1,307.0 618.1,301.0 619.0,299.5 619.2,287.8 620.2,285.6 620.9,282.3 620.9,282.0 621.0,277.6 621.8,276.9 622.1,274.0 622.1,273.2 622.1,272.5 622.1,271.0 620.9,269.9"/>
<polygon fill="#ffff00" points="625.1,276.9 624.0,278.0 624.0,279.8 623.1,282.0 623.1,284.2 623.1,285.6 623.1,287.8 623.1,307.0 634.8,307.0 634.8,287.8 629.8,285.6 628.3,284.2 627.0,282.0 626.9,279.8 626.2,278.0 626.0,276.9"/>
<polygon fill="#ffff00" points="632.1,283.1 631.6,284.9 630.5,285.6 629.8,287.8 634.8,287.8 634.2,285.6 634.2,284.9 633.3,283.1"/>
<polygon fill="#ffff00" points="622.9,263.0 624.0,265.2 625.1,266.7 625.8,267.4 627.6,267.4 633.1,266.7 632.1,265.2 632.0,263.0"/>
<polygon fill="#ffff00" points="630.9,267.0 631.1,268.8 633.1,268.8 633.1,267.0"/>
<polygon fill="#ffff00" points="635.1,267.0 634.9,268.5 634.9,270.3 635.6,272.5 636.4,274.7 636.7,276.9 637.5,281.3 638.0,284.9 638.4,285.6 640.0,285.6 640.8,284.9 640.8,281.3 640.8,276.9 640.8,274.7 639.3,272.5 638.2,270.3 637.1,268.5 636.2,267.0"/>
<polygon fill="#ffff00" points="640.0,263.0 641.5,265.9 642.6,267.4 644.0,268.8 646.2,268.8 646.2,267.4 645.9,265.9 645.1,263.0"/>
<polygon fill="#ffff00" points="638.0,291.8 637.1,295.1 637.1,295.5 637.1,301.0 638.0,301.7 638.0,305.3 637.1,306.1 638.6,306.1 644.0,305.3 644.0,301.7 644.0,301.0 644.0,295.5 638.9,295.1 638.9,291.8"/>
<polygon fill="#ffff00" points="641.5,292.2 641.1,295.5 644.0,295.5 644.0,292.2"/>
<polygon fill="#00f0ff" points="638.7,295.1 638.9,298.8 639.9,298.8 640.0,295.1"/>
<polygon fill="#ffff00" points="646.0,292.9 646.0,303.9 647.0,303.9 647.0,292.9"/>
</g>
<g clip-path="url(#c04)">
<polygon fill="#ffff00" points="308.2,307.0 308.9,309.9 308.9,331.8 308.9,332.6 310.0,334.0 310.0,351.0 315.0,351.0 315.0,334.0 315.0,332.6 314.0,331.8 314.0,309.9 314.0,307.0"/>
<polygon fill="#ffff00" points="296.0,307.0 296.0,318.0 296.0,318.7 296.0,320.9 296.0,329.6 296.9,330.4 296.9,334.0 297.0,351.0 303.1,351.0 303.1,334.0 302.1,330.4 302.1,329.6 302.1,320.9 301.1,318.7 302.1,318.0 302.1,307.0"/>
<polygon fill="#ffff00" points="285.1,307.0 285.1,326.0 285.1,326.7 285.1,334.0 285.2,335.8 288.1,335.8 288.1,334.0 289.2,326.7 290.2,326.0 290.2,307.0"/>
<polygon fill="#ffff00" points="276.8,307.0 276.8,314.3 276.1,315.0 276.1,326.0 276.1,326.7 276.1,332.6 276.1,333.3 276.1,336.9 276.3,336.9 277.9,333.3 279.0,332.6 279.0,326.7 280.1,326.0 280.1,315.0 281.2,314.3 281.2,307.0"/>
<polygon fill="#ffff00" points="271.0,307.0 271.0,321.6 269.9,322.0 269.9,333.6 269.9,334.0 269.9,336.9 269.9,343.5 269.1,344.2 269.1,347.2 272.1,349.3 272.1,351.0 276.1,351.0 276.1,349.3 276.1,347.2 276.1,344.2 276.1,343.5 276.1,336.9 277.9,334.0 274.1,333.6 274.1,322.0 274.1,321.6 274.1,307.0"/>
<polygon fill="#ffff00" points="281.2,339.1 281.2,340.9 280.8,343.5 280.1,344.2 280.1,347.9 281.2,348.6 281.2,351.0 284.1,351.0 284.1,348.6 284.1,347.9 284.1,344.2 284.1,343.5 284.1,340.9 283.0,339.1"/>
<polygon fill="#ffff00" points="259.3,307.0 259.3,308.1 260.7,312.1 261.1,325.3 261.8,326.0 261.8,336.2 261.8,336.9 261.8,351.0 267.0,351.0 267.0,336.9 265.1,336.2 264.9,326.0 264.0,325.3 263.7,312.1 263.3,308.1 265.1,307.0"/>
<polygon fill="#ffff00" points="265.1,313.9 265.1,316.5 265.9,323.1 266.2,323.4 266.2,332.6 265.1,332.9 265.1,336.9 267.0,336.9 267.0,332.9 268.0,332.6 268.0,323.4 267.0,323.1 267.0,316.5 266.1,313.9"/>
<polygon fill="#ffff00" points="256.0,307.0 256.0,311.4 256.0,312.8 256.0,318.0 256.0,319.4 256.0,319.8 257.1,319.8 258.2,319.4 259.3,318.0 259.3,312.8 258.2,311.4 257.8,307.0"/>
<polygon fill="#ffff00" points="257.8,324.5 257.8,326.7 258.9,326.7 258.9,324.5"/>
<polygon fill="#ffff00" points="256.0,342.0 256.0,343.5 256.0,345.0 256.0,351.0 260.4,351.0 259.7,345.0 260.4,343.5 259.3,342.0"/>
<polygon fill="#ffff00" points="267.7,307.0 267.7,308.8 269.1,308.8 269.1,307.0"/>
<polygon fill="#00f0ff" points="263.3,346.4 263.3,349.3 264.8,349.3 264.8,346.4"/>
</g>
<g clip-path="url(#c14)">
<rect x="322" y="307" width="66" height="44" fill="#ffff00"/>
<polygon fill="#00f0ff" points="322.0,307.0 322.0,310.7 322.0,311.4 322.0,318.0 322.7,318.0 322.9,311.4 323.8,310.7 324.0,307.0"/>
<polygon fill="#00f0ff" points="336.0,307.0 336.0,310.7 335.1,311.4 335.1,321.6 335.1,322.3 335.1,332.6 335.1,333.3 335.1,335.8 336.0,336.2 336.0,339.9 336.2,340.6 336.2,341.9 338.8,341.9 339.2,340.6 339.7,339.9 339.9,336.2 339.9,335.8 340.1,333.3 340.8,332.6 341.1,322.3 341.9,321.6 341.9,311.4 341.9,310.7 341.9,307.0"/>
<polygon fill="#00f0ff" points="343.9,307.0 344.0,310.7 344.8,312.1 345.0,315.0 345.2,318.7 345.4,320.9 346.1,322.3 346.8,326.0 347.4,328.9 347.9,330.4 348.3,332.2 348.4,332.9 349.7,332.9 350.1,332.2 352.1,330.4 353.0,328.9 353.4,326.0 354.1,322.3 354.9,320.9 355.6,318.7 356.3,315.0 357.4,312.1 358.1,310.7 358.1,307.0"/>
<polygon fill="#00f0ff" points="326.0,335.1 322.0,336.9 322.0,337.7 322.0,340.6 322.0,342.0 322.0,342.8 322.0,345.0 322.0,347.2 322.0,351.0 335.9,351.0 335.9,347.2 334.8,345.0 333.7,342.8 332.2,342.0 330.8,340.6 328.9,337.7 328.6,336.9 327.8,335.1"/>
<polygon fill="#00f0ff" points="348.3,342.0 347.2,344.2 347.0,345.3 346.8,346.8 345.4,348.2 343.9,349.3 343.2,351.0 362.0,351.0 362.0,349.3 362.0,348.2 361.1,346.8 360.0,345.3 352.1,344.2 350.8,342.0"/>
<polygon fill="#00f0ff" points="373.1,342.0 372.2,343.5 372.0,345.7 372.0,347.9 372.0,349.7 372.0,351.0 378.9,351.0 378.6,349.7 377.1,347.9 375.3,345.7 374.9,343.5 374.0,342.0"/>
<polygon fill="#00f0ff" points="387.0,339.9 387.0,345.7 386.1,346.4 386.1,348.6 387.0,349.3 387.0,351.0 388.0,351.0 388.0,349.3 388.0,348.6 388.0,346.4 388.0,345.7 388.0,339.9"/>
</g>
<g clip-path="url(#c24)">
<polygon fill="#ffff00" points="388.0,307.0 388.0,310.7 388.0,313.2 388.0,315.0 388.0,322.7 388.0,323.4 388.0,328.5 388.0,329.3 388.0,336.2 388.0,336.9 389.8,339.1 391.7,340.6 393.8,342.0 394.2,343.5 396.0,344.8 397.1,344.8 397.5,343.5 398.2,342.0 399.7,340.6 400.8,339.1 401.0,336.9 401.9,336.2 402.0,329.3 403.0,328.5 403.0,323.4 402.0,322.7 402.0,315.0 398.1,313.2 397.9,310.7 397.1,307.0"/>
<polygon fill="#ffff00" points="401.0,313.2 400.0,315.0 402.0,315.0 402.0,313.2"/>
<polygon fill="#ffff00" points="408.1,307.0 408.1,314.3 407.1,315.0 407.1,315.8 407.1,325.3 407.1,326.0 407.1,331.8 408.1,332.6 408.1,336.2 409.2,337.7 409.9,339.1 410.3,340.6 411.7,341.9 412.8,341.9 413.0,340.6 413.2,339.1 413.9,337.7 413.9,336.2 413.9,332.6 413.9,331.8 413.9,326.0 413.0,325.3 413.0,315.8 412.8,315.0 411.9,314.3 411.9,307.0"/>
<polygon fill="#ffff00" points="425.1,345.0 424.1,346.8 424.1,349.3 419.2,350.1 419.2,351.0 428.0,351.0 428.0,350.1 428.0,349.3 427.8,346.8 426.0,345.0"/>
<polygon fill="#ffff00" points="443.1,307.0 443.1,311.4 444.1,312.1 444.1,315.8 444.1,316.5 444.2,320.9 444.9,323.8 444.9,328.9 446.0,336.2 446.0,339.1 445.7,341.3 444.9,346.4 440.9,347.2 440.9,351.0 448.0,351.0 448.0,347.2 450.1,346.4 450.1,341.3 449.0,339.1 448.2,336.2 449.0,328.9 450.1,323.8 450.9,320.9 450.1,316.5 449.0,315.8 447.9,312.1 447.9,311.4 447.9,307.0"/>
<polygon fill="#ffff00" points="436.0,324.2 436.0,326.7 436.0,332.6 437.6,334.7 438.4,336.9 439.1,339.1 439.1,340.6 437.6,342.8 436.9,343.5 436.0,345.0 436.0,351.0 446.0,351.0 446.0,345.0 446.0,343.5 446.0,342.8 446.0,340.6 442.0,339.1 440.9,336.9 439.8,334.7 439.0,332.6 438.7,326.7 438.0,324.2"/>
<polygon fill="#ffff00" points="442.0,328.9 442.0,332.6 442.9,336.2 443.9,338.4 444.2,340.6 446.0,340.6 446.0,338.4 444.9,336.2 443.9,332.6 442.9,328.9"/>
<polygon fill="#00f0ff" points="442.0,340.2 442.0,345.0 442.9,345.0 442.9,340.2"/>
<polygon fill="#00f0ff" points="446.0,340.6 446.0,343.1 447.0,343.1 447.0,340.6"/>
<polygon fill="#00f0ff" points="438.4,345.0 438.4,351.0 440.9,351.0 440.9,345.0"/>
<polygon fill="#ffff00" points="452.1,324.9 450.9,328.2 450.9,332.6 450.1,333.3 450.1,336.2 449.2,339.9 449.0,342.0 450.8,342.0 450.9,339.9 451.2,336.2 453.0,333.3 453.0,332.6 453.0,328.2 453.0,324.9"/>
<polygon fill="#ffff00" points="453.0,332.6 453.0,345.0 454.0,345.0 454.0,332.6"/>
<polygon fill="#ffff00" points="451.9,312.8 451.2,315.8 451.2,318.0 451.2,318.7 451.2,320.9 452.1,320.9 452.2,318.7 453.0,318.0 453.0,315.8 453.0,312.8"/>
<polygon fill="#0032ff" points="450.9,309.0 450.9,310.1 451.9,310.1 451.9,309.0"/>
<polygon fill="#ff6400" points="452.2,308.1 452.2,312.8 452.8,312.8 452.8,308.1"/>
</g>
<g clip-path="url(#c34)">
<polygon fill="#ffff00" points="457.1,307.0 457.1,310.7 455.1,311.4 455.1,312.1 454.0,313.9 454.0,318.7 454.0,319.4 454.0,351.0 460.9,351.0 460.9,319.4 460.0,318.7 460.0,313.9 460.0,312.1 460.0,311.4 460.9,310.7 460.9,307.0"/>
<polygon fill="#00f0ff" points="454.0,326.0 454.0,335.8 454.9,335.8 454.9,326.0"/>
<polygon fill="#ffff00" points="463.1,307.0 463.1,320.1 464.1,320.9 464.1,323.8 465.0,324.5 465.0,329.6 465.0,330.4 465.0,351.0 473.0,351.0 473.0,330.4 471.9,329.6 471.9,324.5 471.9,323.8 471.9,320.9 471.9,320.1 471.9,307.0"/>
<polygon fill="#00f0ff" points="466.0,307.0 466.0,312.1 466.0,312.8 466.0,320.1 467.1,320.1 467.1,312.8 468.0,312.1 468.0,307.0"/>
<polygon fill="#ffff00" points="477.0,307.0 477.0,314.3 477.0,315.0 477.0,321.6 477.0,322.3 477.0,323.8 477.9,324.5 477.9,331.8 477.9,332.6 477.9,345.0 477.9,345.7 477.0,346.4 477.0,351.0 483.9,351.0 483.9,346.4 483.9,345.7 483.1,345.0 483.1,332.6 482.1,331.8 482.1,324.5 482.1,323.8 482.1,322.3 483.1,321.6 483.1,315.0 483.9,314.3 483.9,307.0"/>
<polygon fill="#ffff00" points="489.9,336.9 489.9,340.9 489.9,341.3 489.9,342.8 489.0,343.1 489.0,351.0 492.0,351.0 492.0,343.1 492.0,342.8 492.0,341.3 490.9,340.9 490.9,336.9"/>
<polygon fill="#ffff00" points="486.0,349.0 486.0,351.0 487.0,351.0 487.0,349.0"/>
<polygon fill="#ffff00" points="498.9,347.9 498.9,349.0 498.9,351.0 500.7,351.0 500.7,349.0 499.8,347.9"/>
<polygon fill="#ffff00" points="510.1,323.1 510.1,325.6 509.1,326.0 509.1,348.6 509.1,349.0 509.1,351.0 512.0,351.0 512.0,349.0 510.9,348.6 510.9,326.0 510.9,325.6 510.9,323.1"/>
<polygon fill="#ffff00" points="513.0,307.0 513.3,308.5 513.9,309.9 514.0,310.7 514.0,315.0 515.0,315.0 515.0,310.7 515.2,309.9 515.9,308.5 516.1,307.0"/>
<polygon fill="#00f0ff" points="514.0,307.4 514.0,308.5 514.9,308.5 514.9,307.4"/>
<polygon fill="#ffff00" points="519.0,307.0 519.0,319.0 520.0,319.0 520.0,307.0"/>
</g>
<g clip-path="url(#c44)">
<polygon fill="#ffff00" points="520.0,307.0 520.0,310.7 520.0,311.4 520.0,315.0 520.0,315.8 520.0,322.7 520.9,322.7 520.9,315.8 524.0,315.0 525.1,311.4 526.9,310.7 526.9,307.0"/>
<polygon fill="#ffff00" points="526.9,307.0 531.0,310.7 532.0,310.7 532.0,307.0"/>
<polygon fill="#00f0ff" points="528.9,307.0 528.9,309.9 530.1,309.9 530.1,307.0"/>
<polygon fill="#ffff00" points="522.9,315.0 522.9,324.5 522.0,325.3 523.1,325.3 524.0,324.5 524.0,315.0"/>
<polygon fill="#ffff00" points="523.1,326.7 523.1,328.9 523.1,331.1 523.1,332.9 523.1,334.0 523.1,337.7 524.0,338.4 524.0,339.9 525.0,342.0 525.8,346.4 526.9,347.2 526.9,350.1 528.9,350.1 528.9,347.2 528.9,346.4 528.9,342.0 528.9,339.9 529.9,338.4 529.9,337.7 529.9,334.0 528.9,332.9 528.0,331.1 525.1,328.9 525.0,326.7"/>
<polygon fill="#ffff00" points="526.9,328.9 526.9,331.1 528.0,331.1 528.0,328.9"/>
<polygon fill="#ffff00" points="529.1,322.0 529.1,323.1 530.1,323.1 530.1,322.0"/>
<polygon fill="#ffff00" points="522.0,350.1 522.0,351.0 522.9,351.0 522.9,350.1"/>
<polygon fill="#ffff00" points="532.0,307.0 532.0,312.1 531.0,312.8 531.0,320.1 531.0,321.6 531.0,322.7 533.0,323.4 533.9,332.6 533.9,332.9 533.9,342.8 533.1,343.5 533.0,347.9 532.0,348.6 532.0,351.0 544.1,351.0 544.1,348.6 541.2,347.9 541.2,343.5 541.2,342.8 541.2,332.9 541.9,332.6 541.9,323.4 541.9,322.7 541.9,321.6 547.0,320.1 547.0,312.8 547.0,312.1 547.0,307.0"/>
<polygon fill="#00f0ff" points="537.2,307.0 537.2,308.1 538.1,310.7 539.0,311.7 539.0,314.9 540.1,314.9 540.1,311.7 541.0,310.7 541.0,308.1 541.9,307.0"/>
<polygon fill="#ffff00" points="543.0,320.1 544.1,321.6 544.1,325.3 544.1,329.6 544.8,330.7 545.6,330.7 545.9,329.6 546.1,325.3 547.0,321.6 547.0,320.1"/>
<polygon fill="#00f0ff" points="541.9,343.1 541.9,347.9 543.2,347.9 543.2,343.1"/>
<polygon fill="#ffff00" points="549.9,307.0 549.9,316.5 551.0,318.0 552.0,318.0 552.0,316.5 552.0,307.0"/>
<polygon fill="#ffff00" points="552.0,326.0 552.0,347.9 551.0,348.6 551.0,351.0 554.2,351.0 554.2,348.6 554.2,347.9 554.2,326.0"/>
<polygon fill="#ffff00" points="558.7,307.0 557.8,312.1 556.9,312.8 556.9,320.9 556.9,334.0 556.9,334.7 556.9,351.0 566.0,351.0 566.0,334.7 565.6,334.0 564.7,320.9 564.2,312.8 564.2,312.1 564.2,307.0"/>
<polygon fill="#00f0ff" points="560.0,308.1 560.0,314.3 560.0,326.7 560.9,327.4 561.0,328.9 562.0,328.9 562.0,327.4 562.0,326.7 562.0,314.3 561.0,308.1"/>
<polygon fill="#ffff00" points="566.0,307.0 566.1,309.2 567.6,309.2 567.8,307.0"/>
<polygon fill="#ffff00" points="564.9,315.0 564.9,318.0 566.0,318.0 566.0,315.0"/>
<polygon fill="#ffff00" points="568.2,308.5 569.1,309.9 569.1,314.3 569.3,315.0 570.2,315.0 570.4,314.3 571.0,309.9 570.4,308.5"/>
<polygon fill="#ffff00" points="570.0,326.7 570.0,332.6 569.1,333.3 568.9,339.9 568.0,340.2 568.0,351.0 571.0,351.0 571.0,340.2 571.0,339.9 571.0,333.3 571.0,332.6 571.0,326.7"/>
<polygon fill="#ffff00" points="574.0,307.0 574.0,311.7 575.1,312.1 575.1,325.3 574.0,325.6 574.0,351.0 576.1,351.0 576.1,325.6 576.2,325.3 576.4,312.1 576.9,311.7 576.9,307.0"/>
<polygon fill="#ffff00" points="579.0,307.0 579.0,314.7 580.0,315.0 580.0,318.0 578.0,318.3 578.0,322.7 578.0,323.1 578.0,328.5 579.0,328.9 579.0,351.0 582.1,351.0 582.1,328.9 582.1,328.5 582.1,323.1 581.0,322.7 581.0,318.3 581.0,318.0 581.0,315.0 582.1,314.7 582.1,307.0"/>
<polygon fill="#00f0ff" points="579.0,319.0 579.0,325.6 580.0,325.6 580.0,319.0"/>
<polygon fill="#ffff00" points="585.0,336.9 585.0,351.0 586.0,351.0 586.0,336.9"/>
</g>
<g clip-path="url(#c54)">
<rect x="586" y="307" width="66" height="44" fill="#ffff00"/>
<polygon fill="#00f0ff" points="592.0,312.8 592.0,318.7 592.2,319.4 592.2,325.3 592.2,329.6 592.9,330.4 593.3,334.0 594.0,334.7 594.0,342.0 594.0,343.5 592.9,344.2 592.9,351.0 597.8,351.0 597.8,344.2 597.0,343.5 595.1,342.0 595.1,334.7 595.1,334.0 595.1,330.4 594.8,329.6 594.4,325.3 594.0,319.4 592.9,318.7 592.9,312.8"/>
<polygon fill="#ffd200" points="595.1,319.0 595.1,332.6 595.8,332.6 595.8,319.0"/>
<polygon fill="#00f0ff" points="595.3,307.0 595.9,309.2 596.2,312.8 596.2,314.3 596.2,320.1 596.2,320.9 596.2,324.5 597.0,325.3 597.0,326.7 597.8,326.7 598.0,325.3 598.8,324.5 599.0,320.9 599.9,320.1 599.9,314.3 599.0,312.8 599.0,309.2 598.8,307.0"/>
<polygon fill="#ffff00" points="597.0,307.0 597.1,309.9 597.8,309.9 598.0,307.0"/>
<polygon fill="#00f0ff" points="598.0,335.1 597.0,342.0 597.0,343.5 598.0,343.5 599.0,342.0 599.0,335.1"/>
<polygon fill="#00f0ff" points="597.0,332.9 597.0,334.0 598.0,334.0 598.0,332.9"/>
<polygon fill="#00f0ff" points="601.0,307.0 601.0,310.7 601.7,311.4 601.0,319.4 601.0,320.1 601.0,326.0 601.0,326.7 601.3,328.9 601.7,329.6 601.9,336.9 602.1,337.7 602.1,338.8 602.1,339.1 602.2,342.0 602.9,342.8 603.9,342.8 603.9,342.0 603.9,339.1 607.9,338.8 609.2,337.7 610.8,336.9 610.8,329.6 609.2,328.9 609.0,326.7 607.9,326.0 607.9,320.1 607.2,319.4 607.2,311.4 607.2,310.7 607.2,307.0"/>
<polygon fill="#00f0ff" points="608.3,336.9 609.2,340.6 609.2,342.8 609.4,347.2 609.5,351.0 613.0,351.0 612.9,347.2 611.9,342.8 611.2,340.6 610.8,336.9"/>
<polygon fill="#00f0ff" points="610.8,307.0 610.1,308.5 610.8,309.9 611.2,318.0 611.2,318.7 611.2,321.6 611.2,323.8 612.1,323.8 612.6,321.6 613.4,318.7 614.1,318.0 614.1,309.9 615.1,308.5 615.1,307.0"/>
<polygon fill="#00f0ff" points="618.0,307.0 618.0,312.5 618.0,312.8 618.1,320.9 619.0,321.6 619.2,323.8 619.9,324.5 620.2,326.7 620.9,326.7 621.0,324.5 621.8,323.8 621.9,321.6 621.9,320.9 621.9,312.8 622.9,312.5 622.9,307.0"/>
<polygon fill="#00f0ff" points="621.0,336.9 621.0,339.1 620.2,345.0 619.6,346.4 619.2,347.2 619.2,351.0 622.9,351.0 622.9,347.2 623.1,346.4 623.1,345.0 623.1,339.1 622.1,336.9"/>
<polygon fill="#00f0ff" points="630.0,307.0 630.0,328.2 629.1,328.9 629.1,339.9 628.0,340.6 628.0,346.4 629.1,347.2 629.1,351.0 630.9,351.0 630.9,347.2 630.9,346.4 630.9,340.6 631.8,339.9 632.0,328.9 632.0,328.2 632.1,307.0"/>
<polygon fill="#00f0ff" points="635.1,307.0 635.1,338.4 635.1,339.1 634.2,342.0 634.2,351.0 637.8,351.0 637.8,342.0 637.8,339.1 637.0,338.4 637.0,307.0"/>
<polygon fill="#00f0ff" points="640.0,309.9 640.0,319.4 638.9,320.1 639.2,334.0 640.0,335.1 640.9,335.1 640.9,334.0 640.9,320.1 640.9,319.4 640.9,309.9"/>
<polygon fill="#00f0ff" points="644.0,307.0 644.0,312.8 642.9,313.6 642.9,320.1 642.1,320.9 642.1,324.5 642.9,325.3 642.9,341.3 642.9,346.4 644.0,347.2 644.0,351.0 646.0,351.0 646.0,347.2 646.0,346.4 647.0,341.3 647.0,325.3 647.0,324.5 647.0,320.9 647.0,320.1 647.0,313.6 647.0,312.8 647.0,307.0"/>
<polygon fill="#ffff00" points="646.0,320.1 646.0,326.0 647.0,326.0 647.0,320.1"/>
</g>
<g clip-path="url(#c05)">
<polygon fill="#ffff00" points="256.0,351.0 256.0,363.4 258.9,364.1 259.7,369.3 260.0,379.5 260.4,379.8 260.4,383.9 260.2,387.5 261.1,387.5 261.5,383.9 263.7,379.8 264.0,379.5 264.0,369.3 264.0,364.1 264.0,363.4 264.0,351.0"/>
<polygon fill="#ffff00" points="262.2,379.8 262.6,386.8 263.7,386.8 263.7,379.8"/>
<polygon fill="#ffff00" points="258.0,370.0 258.0,377.3 258.9,377.3 258.9,370.0"/>
<polygon fill="#ffff00" points="257.8,389.0 257.8,391.0 258.9,391.0 258.9,389.0"/>
<polygon fill="#ffff00" points="265.1,351.0 265.1,353.9 266.2,357.6 267.0,359.0 268.0,362.0 268.0,372.2 267.0,372.9 267.0,384.6 268.0,385.3 268.0,391.0 270.0,391.0 270.0,385.3 270.0,384.6 270.0,372.9 271.0,372.2 271.0,362.0 270.0,359.0 269.0,357.6 269.0,353.9 268.0,351.0"/>
<polygon fill="#ffff00" points="272.1,351.0 272.1,355.4 273.9,356.1 275.0,358.3 275.0,379.5 275.0,380.2 273.9,380.9 273.9,391.0 279.9,391.0 279.9,380.9 279.9,380.2 279.0,379.5 279.0,358.3 277.9,356.1 277.2,355.4 276.1,351.0"/>
<polygon fill="#ffff00" points="271.9,387.1 271.9,391.0 273.2,391.0 273.2,387.1"/>
<polygon fill="#ffff00" points="280.8,351.0 280.8,353.9 284.1,353.9 284.1,351.0"/>
<polygon fill="#ffff00" points="289.2,353.9 284.1,355.0 284.1,358.3 283.0,359.0 283.0,365.6 283.0,366.3 283.2,368.5 284.1,369.3 284.1,378.7 284.1,379.5 284.1,381.7 285.1,383.1 285.9,385.3 286.1,391.0 288.1,391.0 288.1,385.3 288.1,383.1 288.1,381.7 287.0,379.5 288.0,378.7 288.1,369.3 288.1,368.5 288.1,366.3 289.2,365.6 289.2,359.0 290.2,358.3 290.2,355.0 290.2,353.9"/>
<polygon fill="#ffff00" points="297.2,351.0 297.2,353.2 296.9,358.3 295.8,362.0 294.0,365.6 294.0,368.5 293.1,370.0 293.1,375.8 293.1,376.6 293.1,379.5 292.1,380.2 292.1,391.0 299.1,391.0 299.1,380.2 299.8,379.5 300.2,376.6 299.1,375.8 299.1,370.0 299.1,368.5 300.2,365.6 300.9,362.0 301.6,358.3 302.7,353.2 303.1,351.0"/>
<polygon fill="#00f0ff" points="294.1,382.4 294.1,383.1 295.8,387.5 294.1,388.2 294.1,391.0 297.0,391.0 297.0,388.2 297.0,387.5 296.9,383.1 296.0,382.4"/>
<polygon fill="#ffff00" points="300.9,380.9 300.9,382.4 301.1,391.0 303.1,391.0 303.1,382.4 302.0,380.9"/>
<polygon fill="#ffff00" points="310.0,351.0 310.0,357.6 310.9,358.3 311.1,362.0 312.1,362.7 312.9,364.9 313.1,367.8 314.0,376.6 315.9,378.0 317.0,378.0 317.0,376.6 317.0,367.8 315.9,364.9 315.0,362.7 315.0,362.0 315.0,358.3 315.0,357.6 315.0,351.0"/>
<polygon fill="#ffff00" points="308.9,367.1 308.0,369.3 307.5,372.9 306.4,376.6 306.0,380.2 305.1,380.9 305.1,391.0 311.9,391.0 311.9,380.9 311.9,380.2 311.9,376.6 311.9,372.9 311.9,369.3 310.9,367.1"/>
<polygon fill="#00f0ff" points="307.0,381.7 307.0,382.4 307.0,389.0 307.5,389.7 307.5,391.0 310.0,391.0 310.0,389.7 308.9,389.0 308.9,382.4 308.0,381.7"/>
<polygon fill="#ffff00" points="315.0,380.2 314.0,382.4 314.0,391.0 316.0,391.0 316.0,382.4 316.0,380.2"/>
<polygon fill="#ffff00" points="318.9,380.9 318.9,384.6 319.2,391.0 321.0,391.0 321.0,384.6 319.9,380.9"/>
</g>
<g clip-path="url(#c15)">
<polygon fill="#ffff00" points="336.0,351.0 336.0,354.7 336.2,355.4 337.0,357.6 337.0,358.3 337.0,360.5 337.2,362.0 337.9,362.0 338.8,360.5 338.9,358.3 339.9,357.6 340.1,355.4 341.1,354.7 341.1,351.0"/>
<polygon fill="#ffff00" points="362.0,351.0 362.9,352.5 363.6,354.7 364.7,356.8 365.8,359.0 366.5,360.5 367.3,362.0 368.7,362.0 369.8,360.5 369.8,359.0 370.2,356.8 370.9,354.7 371.6,352.5 372.0,351.0"/>
<polygon fill="#ffff00" points="378.9,351.0 380.0,352.5 380.4,356.8 381.0,357.6 381.0,365.6 381.0,366.0 381.0,379.8 381.9,380.6 382.0,382.8 388.0,382.8 388.0,380.6 388.0,379.8 388.0,366.0 387.0,365.6 387.0,357.6 387.0,356.8 387.0,352.5 387.0,351.0"/>
<polygon fill="#ffff00" points="381.0,382.8 381.0,391.0 383.0,391.0 383.0,382.8"/>
<polygon fill="#ffff00" points="384.1,383.1 384.9,391.0 387.0,391.0 387.0,383.1"/>
<polygon fill="#ffff00" points="325.8,366.0 325.8,367.9 327.1,367.9 327.1,366.0"/>
<polygon fill="#ffff00" points="322.9,380.9 322.9,391.0 324.0,391.0 324.0,380.9"/>
<polygon fill="#ffff00" points="328.9,380.9 328.9,391.0 330.0,391.0 330.0,380.9"/>
<polygon fill="#ffff00" points="330.0,384.6 330.0,391.0 331.1,391.0 331.1,384.6"/>
<polygon fill="#ffff00" points="334.0,382.0 334.0,391.0 335.9,391.0 335.9,382.0"/>
<polygon fill="#ffff00" points="338.8,383.1 338.8,390.1 337.9,390.2 337.9,391.0 339.9,391.0 339.9,390.2 339.9,390.1 339.9,383.1"/>
<polygon fill="#ffff00" points="343.0,384.2 343.0,385.3 343.0,391.0 345.0,391.0 345.0,385.3 344.0,384.2"/>
<polygon fill="#ffff00" points="347.9,384.2 347.9,388.2 349.0,388.2 349.0,384.2"/>
<polygon fill="#ffff00" points="349.0,380.9 349.0,391.0 350.1,391.0 350.1,380.9"/>
<polygon fill="#ffff00" points="353.0,382.0 353.0,384.9 353.0,391.0 355.0,391.0 355.0,384.9 354.1,382.0"/>
<polygon fill="#ffff00" points="359.1,383.1 358.1,384.2 358.1,391.0 360.0,391.0 360.0,384.2 360.0,383.1"/>
<polygon fill="#ffff00" points="361.1,388.2 361.1,391.0 362.0,391.0 362.0,388.2"/>
<polygon fill="#ffff00" points="365.8,383.1 365.1,384.2 365.1,391.0 366.9,391.0 366.9,384.2 366.9,383.1"/>
<polygon fill="#ffff00" points="370.0,383.1 370.0,391.0 371.1,391.0 371.1,383.1"/>
<polygon fill="#ffff00" points="374.0,383.1 374.0,391.0 374.9,391.0 374.9,383.1"/>
<polygon fill="#ffff00" points="377.9,384.2 377.1,385.3 377.1,391.0 378.9,391.0 378.9,385.3 378.9,384.2"/>
</g>
<g clip-path="url(#c25)">
<polygon fill="#ffff00" points="388.0,369.3 388.0,373.6 388.0,380.2 388.0,391.0 390.9,391.0 390.9,380.2 389.8,373.6 388.9,369.3"/>
<polygon fill="#00f0ff" points="388.9,381.7 388.9,391.0 389.8,391.0 389.8,381.7"/>
<polygon fill="#ffff00" points="403.9,355.0 402.2,356.1 401.0,358.3 400.0,362.7 399.0,364.9 397.1,367.1 394.9,370.0 394.0,374.4 393.0,376.2 393.0,379.1 394.0,379.5 394.0,381.7 394.0,382.0 394.9,391.0 405.9,391.0 405.9,382.0 409.9,381.7 409.9,379.5 408.1,379.1 408.1,376.2 408.1,374.4 408.1,370.0 408.1,367.1 408.1,364.9 408.1,362.7 407.0,358.3 405.9,356.1 405.2,355.0"/>
<polygon fill="#00f0ff" points="396.0,381.7 396.0,391.0 397.1,391.0 397.1,381.7"/>
<polygon fill="#00f0ff" points="397.1,386.8 397.1,391.0 400.0,391.0 400.0,386.8"/>
<polygon fill="#00f0ff" points="401.9,383.9 401.9,391.0 403.9,391.0 403.9,383.9"/>
<polygon fill="#ffff00" points="417.9,351.0 417.2,352.5 417.1,353.9 416.1,355.4 416.1,357.6 416.1,358.3 416.1,366.3 417.1,367.1 417.1,373.6 417.1,374.4 417.1,376.6 417.1,380.2 418.1,380.9 418.1,382.4 418.1,383.1 418.1,391.0 421.0,391.0 421.0,383.1 421.9,382.4 423.0,380.9 423.9,380.2 424.1,376.6 425.1,374.4 426.0,373.6 426.0,367.1 426.0,366.3 426.0,358.3 427.1,357.6 428.0,355.4 428.0,353.9 428.9,352.5 428.0,351.0"/>
<polygon fill="#ffff00" points="413.9,380.2 413.9,382.4 414.1,391.0 416.1,391.0 416.1,382.4 415.0,380.2"/>
<polygon fill="#ffff00" points="423.0,382.0 423.0,383.1 423.2,391.0 425.1,391.0 425.1,383.1 424.1,382.0"/>
<polygon fill="#ffff00" points="428.0,384.2 428.0,389.7 427.1,390.1 427.1,391.0 429.0,391.0 429.0,390.1 429.0,389.7 429.0,384.2"/>
<polygon fill="#ffff00" points="432.9,387.1 432.9,391.0 434.0,391.0 434.0,387.1"/>
<polygon fill="#ffff00" points="440.0,351.0 440.0,354.7 439.1,355.4 439.1,358.3 440.0,359.0 440.9,360.5 441.2,364.1 441.2,364.9 442.0,368.5 439.1,369.3 439.1,378.0 440.0,378.4 440.9,382.4 442.0,383.1 442.0,391.0 447.0,391.0 447.0,383.1 447.9,382.4 447.9,378.4 446.0,378.0 446.0,369.3 446.0,368.5 446.0,364.9 447.0,364.1 447.0,360.5 447.0,359.0 447.0,358.3 447.9,355.4 447.9,354.7 447.9,351.0"/>
<polygon fill="#ffff00" points="438.0,364.1 438.0,367.9 439.0,367.9 439.0,364.1"/>
<polygon fill="#ffff00" points="436.0,351.0 436.0,351.9 437.1,351.9 437.1,351.0"/>
<polygon fill="#ffff00" points="453.0,364.1 453.0,370.0 452.1,370.7 452.1,373.6 451.2,374.4 449.2,375.1 449.0,381.7 448.0,382.4 448.0,391.0 454.0,391.0 454.0,382.4 454.0,381.7 454.0,375.1 454.0,374.4 454.0,373.6 454.0,370.7 454.0,370.0 454.0,364.1"/>
<polygon fill="#00f0ff" points="450.1,382.4 450.1,384.2 450.9,387.5 450.9,391.0 451.9,391.0 452.1,387.5 452.1,384.2 450.9,382.4"/>
<polygon fill="#0032ff" points="452.1,376.2 452.1,386.0 452.8,386.0 452.8,376.2"/>
</g>
<g clip-path="url(#c35)">
<polygon fill="#ffff00" points="454.0,351.0 454.0,363.4 454.0,364.1 454.0,368.5 454.0,369.3 454.0,380.9 454.0,381.7 454.0,385.3 454.0,386.0 454.0,387.5 454.0,391.0 454.9,391.0 456.2,387.5 456.9,386.0 459.5,385.3 460.0,381.7 460.9,380.9 460.9,369.3 460.0,368.5 460.0,364.1 460.9,363.4 460.9,351.0"/>
<polygon fill="#00f0ff" points="456.9,367.9 456.9,368.9 458.0,368.9 458.0,367.9"/>
<polygon fill="#ffff00" points="465.0,351.0 465.0,355.4 466.0,356.1 466.0,363.4 466.0,364.1 466.0,366.7 466.0,367.4 466.0,369.3 466.0,376.6 466.0,377.3 466.0,380.2 465.0,380.9 465.0,383.9 460.2,384.2 460.2,385.7 460.0,386.0 460.0,391.0 471.9,391.0 471.9,386.0 471.9,385.7 471.9,384.2 471.9,383.9 471.9,380.9 471.9,380.2 471.9,377.3 473.0,376.6 473.0,369.3 472.1,367.4 470.9,366.7 470.9,364.1 471.9,363.4 471.9,356.1 471.9,355.4 471.9,351.0"/>
<polygon fill="#00f0ff" points="462.8,383.9 462.8,385.9 465.0,385.9 465.0,383.9"/>
<polygon fill="#ffff00" points="459.0,384.2 459.0,391.0 460.0,391.0 460.0,384.2"/>
<polygon fill="#ffff00" points="477.0,351.0 477.0,356.1 477.0,356.5 477.0,364.9 478.1,365.6 482.1,365.6 483.2,364.9 483.2,356.5 483.9,356.1 483.9,351.0"/>
<polygon fill="#00f0ff" points="478.8,352.1 478.8,356.8 480.1,356.8 480.1,352.1"/>
<polygon fill="#00f0ff" points="481.0,359.0 481.0,363.4 482.1,363.4 482.1,359.0"/>
<polygon fill="#ffff00" points="481.0,364.9 481.0,368.9 482.1,368.9 482.1,364.9"/>
<polygon fill="#ffff00" points="477.9,370.0 477.9,375.8 479.2,375.8 479.2,370.0"/>
<polygon fill="#ffff00" points="486.1,351.0 486.1,352.5 486.1,353.2 486.1,356.1 485.2,358.3 485.2,362.0 487.0,362.7 487.2,363.0 488.3,366.3 489.0,368.5 489.8,370.0 490.4,371.8 492.0,371.8 492.3,370.0 493.1,368.5 493.1,366.3 493.1,363.0 494.0,362.7 494.0,362.0 494.0,358.3 494.0,356.1 493.1,353.2 492.1,352.5 492.0,351.0"/>
<polygon fill="#00f0ff" points="487.0,351.0 487.0,351.9 487.9,351.9 487.9,351.0"/>
<polygon fill="#ffff00" points="483.9,362.0 484.1,366.7 485.0,367.1 486.0,367.1 486.0,366.7 486.0,362.0"/>
<polygon fill="#ff6400" points="484.1,367.1 484.1,376.6 485.1,376.6 485.1,367.1"/>
<polygon fill="#ff1414" points="484.1,376.6 484.1,389.7 485.0,389.7 485.0,376.6"/>
<polygon fill="#ffff00" points="482.1,383.1 481.2,386.0 481.2,391.0 484.1,391.0 484.1,386.0 483.9,383.1"/>
<polygon fill="#ffff00" points="487.0,386.0 487.0,387.5 487.0,391.0 488.9,391.0 488.9,387.5 487.9,386.0"/>
<polygon fill="#ffff00" points="498.5,351.0 497.1,352.8 497.1,367.4 498.0,368.2 498.2,376.9 501.1,376.9 501.1,368.2 501.1,367.4 501.1,352.8 501.1,351.0"/>
<polygon fill="#ffff00" points="504.0,367.1 504.0,373.6 504.0,374.4 504.0,376.9 506.0,376.9 506.0,374.4 505.0,373.6 505.0,367.1"/>
<polygon fill="#ffff00" points="501.1,376.9 498.2,378.0 498.2,386.8 497.1,387.5 496.3,389.0 496.2,391.0 505.1,391.0 506.0,389.0 506.0,387.5 506.0,386.8 506.0,378.0 506.0,376.9"/>
<polygon fill="#ffff00" points="509.1,351.0 509.1,363.0 509.1,363.4 509.1,365.2 509.1,365.6 509.1,375.8 508.0,376.6 508.0,380.2 508.0,380.9 508.0,387.5 509.1,388.2 510.1,391.0 513.0,391.0 513.0,388.2 513.0,387.5 513.0,380.9 512.0,380.2 512.0,376.6 512.0,375.8 512.0,365.6 510.2,365.2 510.2,363.4 512.0,363.0 512.0,351.0"/>
<polygon fill="#ffff00" points="516.1,374.0 515.2,375.1 515.2,376.6 515.2,381.7 516.1,381.7 516.1,376.6 516.9,375.1 516.9,374.0"/>
<polygon fill="#ffff00" points="516.9,389.0 516.9,391.0 518.1,391.0 518.1,389.0"/>
</g>
<g clip-path="url(#c45)">
<rect x="520" y="351" width="66" height="44" fill="#ffff00"/>
<polygon fill="#00f0ff" points="520.0,351.0 520.0,353.2 520.0,353.9 520.0,356.8 520.7,356.8 520.9,353.9 521.8,353.2 521.8,351.0"/>
<polygon fill="#00f0ff" points="520.0,361.2 520.0,372.2 520.9,372.2 520.9,361.2"/>
<polygon fill="#00f0ff" points="520.0,372.2 520.0,391.0 522.9,391.0 522.9,372.2"/>
<polygon fill="#ffff00" points="520.0,375.1 520.0,379.8 520.9,379.8 520.9,375.1"/>
<polygon fill="#00f0ff" points="522.9,351.0 523.1,352.5 524.0,353.9 525.0,355.4 525.0,378.7 524.0,379.5 524.0,391.0 528.0,391.0 528.0,379.5 528.0,378.7 528.0,355.4 529.1,353.9 531.0,352.5 532.0,351.0"/>
<polygon fill="#00f0ff" points="533.0,359.8 533.0,370.0 532.0,370.3 532.0,374.7 531.0,375.1 531.0,376.9 530.1,377.3 530.1,380.2 529.1,383.9 529.1,384.6 528.9,385.7 528.0,387.9 528.0,391.0 537.9,391.0 537.9,387.9 537.9,385.7 536.8,384.6 535.0,383.9 535.0,380.2 534.0,377.3 534.0,376.9 534.0,375.1 534.0,374.7 534.0,370.3 534.0,370.0 534.0,359.8"/>
<polygon fill="#ffff00" points="526.9,390.1 526.9,391.0 528.0,391.0 528.0,390.1"/>
<polygon fill="#00f0ff" points="539.0,357.9 538.1,359.0 538.1,362.0 538.1,366.3 538.1,378.7 539.1,379.5 539.3,383.1 541.0,383.1 541.9,379.5 541.9,378.7 541.9,366.3 540.8,362.0 540.1,359.0 539.9,357.9"/>
<polygon fill="#00f0ff" points="539.9,385.3 539.9,391.0 541.0,391.0 541.0,385.3"/>
<polygon fill="#00f0ff" points="544.1,351.0 544.8,353.2 545.9,355.4 546.1,358.3 546.1,362.0 546.1,373.6 545.2,374.4 545.2,380.2 545.2,380.9 544.2,383.9 544.1,384.6 544.1,391.0 555.0,391.0 555.0,384.6 552.1,383.9 552.1,380.9 549.9,380.2 549.9,374.4 549.2,373.6 549.2,362.0 549.9,358.3 550.1,355.4 550.7,353.2 551.0,351.0"/>
<polygon fill="#00f0ff" points="554.2,351.0 553.2,352.5 553.0,357.6 552.1,358.3 552.1,371.8 552.1,372.2 552.1,391.0 555.0,391.0 555.0,372.2 555.9,371.8 555.9,358.3 555.9,357.6 555.9,352.5 555.9,351.0"/>
<polygon fill="#00f0ff" points="561.0,363.0 561.0,368.5 561.2,369.3 561.2,374.4 561.6,375.1 561.6,381.7 560.0,386.0 560.0,391.0 561.2,391.0 561.2,386.0 562.3,381.7 562.3,375.1 563.1,374.4 563.1,369.3 562.2,368.5 562.0,363.0"/>
<polygon fill="#00f0ff" points="566.1,351.0 566.1,354.7 566.4,355.4 566.1,376.6 565.1,377.3 564.9,383.9 564.2,384.6 564.2,391.0 568.0,391.0 568.2,384.6 568.2,383.9 568.9,377.3 568.9,376.6 568.9,355.4 568.2,354.7 568.2,351.0"/>
<polygon fill="#00f0ff" points="571.1,351.0 571.1,366.3 572.0,367.1 572.0,376.6 572.0,377.3 571.1,383.9 571.1,391.0 572.9,391.0 572.9,383.9 573.2,377.3 574.0,376.6 574.0,367.1 574.0,366.3 574.0,351.0"/>
<polygon fill="#00f0ff" points="576.1,351.0 576.1,356.1 576.9,356.8 577.1,370.7 578.3,370.7 578.4,356.8 579.0,356.1 579.0,351.0"/>
<polygon fill="#00f0ff" points="582.1,351.0 582.1,358.3 582.1,359.0 582.1,366.3 581.2,367.1 581.2,380.2 581.2,380.9 581.2,384.6 582.1,384.6 582.2,380.9 583.2,380.2 583.2,367.1 583.2,366.3 583.2,359.0 584.1,358.3 584.1,351.0"/>
<polygon fill="#00f0ff" points="576.1,380.9 576.1,387.5 575.1,388.2 575.1,391.0 576.9,391.0 576.9,388.2 576.9,387.5 576.9,380.9"/>
</g>
<g clip-path="url(#c55)">
<rect x="586" y="351" width="66" height="44" fill="#ffff00"/>
<polygon fill="#00f0ff" points="587.8,369.3 586.9,370.0 586.0,373.6 586.0,389.0 587.1,389.7 587.1,391.0 588.9,391.0 588.9,389.7 588.9,389.0 588.9,373.6 588.9,370.0 588.9,369.3"/>
<polygon fill="#00f0ff" points="593.2,351.0 593.2,358.3 594.0,359.0 594.2,369.3 594.9,370.0 595.1,372.9 596.1,372.9 596.2,370.0 597.0,369.3 597.0,359.0 597.0,358.3 597.0,351.0"/>
<polygon fill="#00f0ff" points="592.0,380.9 592.0,386.0 591.0,386.8 591.0,389.7 593.3,391.0 595.1,391.0 594.0,389.7 594.0,386.8 594.0,386.0 594.0,380.9"/>
<polygon fill="#00f0ff" points="605.1,356.8 605.1,362.7 604.1,363.4 604.1,364.1 603.9,376.6 602.9,377.3 602.9,391.0 606.1,391.0 606.1,377.3 606.1,376.6 606.1,364.1 607.0,363.4 607.2,362.7 607.2,356.8"/>
<polygon fill="#00f0ff" points="609.0,351.0 609.0,354.7 608.0,355.4 608.0,358.3 609.0,359.0 609.0,363.4 609.0,364.1 609.0,367.8 610.1,368.5 610.1,372.2 610.1,372.9 610.5,381.7 610.5,382.4 610.5,387.5 610.5,388.2 610.5,391.0 615.1,391.0 615.1,388.2 614.1,387.5 614.1,382.4 613.2,381.7 613.2,372.9 612.3,372.2 612.1,368.5 612.1,367.8 612.1,364.1 613.0,363.4 613.0,359.0 613.0,358.3 613.0,355.4 613.0,354.7 613.0,351.0"/>
<polygon fill="#00f0ff" points="618.0,351.0 618.0,352.5 618.0,353.2 618.0,354.7 618.0,355.4 618.0,383.9 619.0,385.3 619.0,391.0 621.0,391.0 621.0,385.3 621.0,383.9 621.0,355.4 621.8,354.7 622.1,353.2 622.9,352.5 623.1,351.0"/>
<polygon fill="#00f0ff" points="627.0,364.9 627.0,378.7 626.0,379.5 626.0,391.0 629.1,391.0 629.1,379.5 628.0,378.7 628.0,364.9"/>
<polygon fill="#00f0ff" points="629.1,351.0 629.1,356.1 629.1,356.8 629.1,359.0 630.0,359.0 630.2,356.8 630.9,356.1 630.9,351.0"/>
<polygon fill="#00f0ff" points="634.2,351.0 633.5,352.5 633.1,353.9 633.1,362.0 632.1,362.7 632.1,366.3 632.0,367.1 632.0,383.9 631.1,384.6 631.1,391.0 633.8,391.0 633.8,384.6 633.8,383.9 633.8,367.1 634.2,366.3 634.2,362.7 635.1,362.0 635.1,353.9 635.1,352.5 635.1,351.0"/>
<polygon fill="#00f0ff" points="636.0,351.0 637.0,353.9 637.1,364.1 637.1,364.9 637.1,374.4 637.1,375.1 637.1,383.1 638.0,383.1 638.9,375.1 640.0,374.4 640.0,364.9 638.9,364.1 638.9,353.9 638.0,351.0"/>
<polygon fill="#00f0ff" points="644.0,351.0 644.0,358.3 644.0,359.0 644.0,369.3 642.9,370.0 642.9,372.9 644.0,373.6 644.0,383.9 642.9,384.6 642.9,386.0 644.0,387.5 644.4,388.2 645.1,388.2 645.9,387.5 646.0,386.0 646.0,384.6 646.0,383.9 646.0,373.6 646.0,372.9 646.0,370.0 646.0,369.3 646.0,359.0 645.0,358.3 645.0,351.0"/>
<polygon fill="#00f0ff" points="645.9,390.1 645.9,391.0 647.0,391.0 647.0,390.1"/>
</g>
</g>
<g shape-rendering="crispEdges" fill="#000">
<rect x="255" y="130" width="394" height="2"/><rect x="255" y="391" width="394" height="2"/><rect x="255" y="130" width="2" height="263"/><rect x="647" y="130" width="2" height="263"/>
<rect x="271" y="132" width="1" height="4"/><rect x="271" y="388" width="1" height="3"/><rect x="286" y="132" width="1" height="4"/><rect x="286" y="388" width="1" height="3"/><rect x="302" y="132" width="1" height="4"/><rect x="302" y="388" width="1" height="3"/><rect x="317" y="132" width="1" height="4"/><rect x="317" y="388" width="1" height="3"/><rect x="331" y="132" width="2" height="9"/><rect x="331" y="382" width="2" height="9"/><rect x="348" y="132" width="1" height="4"/><rect x="348" y="388" width="1" height="3"/><rect x="363" y="132" width="1" height="4"/><rect x="363" y="388" width="1" height="3"/><rect x="378" y="132" width="1" height="4"/><rect x="378" y="388" width="1" height="3"/><rect x="394" y="132" width="1" height="4"/><rect x="394" y="388" width="1" height="3"/><rect x="408" y="132" width="2" height="9"/><rect x="408" y="382" width="2" height="9"/><rect x="424" y="132" width="1" height="4"/><rect x="424" y="388" width="1" height="3"/><rect x="440" y="132" width="1" height="4"/><rect x="440" y="388" width="1" height="3"/><rect x="455" y="132" width="1" height="4"/><rect x="455" y="388" width="1" height="3"/><rect x="470" y="132" width="1" height="4"/><rect x="470" y="388" width="1" height="3"/><rect x="485" y="132" width="2" height="9"/><rect x="485" y="382" width="2" height="9"/><rect x="501" y="132" width="1" height="4"/><rect x="501" y="388" width="1" height="3"/><rect x="516" y="132" width="1" height="4"/><rect x="516" y="388" width="1" height="3"/><rect x="532" y="132" width="1" height="4"/><rect x="532" y="388" width="1" height="3"/><rect x="547" y="132" width="1" height="4"/><rect x="547" y="388" width="1" height="3"/><rect x="561" y="132" width="2" height="9"/><rect x="561" y="382" width="2" height="9"/><rect x="578" y="132" width="1" height="4"/><rect x="578" y="388" width="1" height="3"/><rect x="593" y="132" width="1" height="4"/><rect x="593" y="388" width="1" height="3"/><rect x="608" y="132" width="1" height="4"/><rect x="608" y="388" width="1" height="3"/><rect x="624" y="132" width="1" height="4"/><rect x="624" y="388" width="1" height="3"/><rect x="638" y="132" width="2" height="9"/><rect x="638" y="382" width="2" height="9"/>
<rect x="257" y="376" width="4" height="1"/><rect x="644" y="376" width="3" height="1"/><rect x="257" y="358" width="4" height="1"/><rect x="644" y="358" width="3" height="1"/><rect x="257" y="341" width="4" height="1"/><rect x="644" y="341" width="3" height="1"/><rect x="257" y="323" width="4" height="1"/><rect x="644" y="323" width="3" height="1"/><rect x="257" y="305" width="9" height="2"/><rect x="638" y="305" width="9" height="2"/><rect x="257" y="288" width="4" height="1"/><rect x="644" y="288" width="3" height="1"/><rect x="257" y="270" width="4" height="1"/><rect x="644" y="270" width="3" height="1"/><rect x="257" y="253" width="4" height="1"/><rect x="644" y="253" width="3" height="1"/><rect x="257" y="235" width="4" height="1"/><rect x="644" y="235" width="3" height="1"/><rect x="257" y="217" width="9" height="2"/><rect x="638" y="217" width="9" height="2"/><rect x="257" y="200" width="4" height="1"/><rect x="644" y="200" width="3" height="1"/><rect x="257" y="182" width="4" height="1"/><rect x="644" y="182" width="3" height="1"/><rect x="257" y="165" width="4" height="1"/><rect x="644" y="165" width="3" height="1"/><rect x="257" y="147" width="4" height="1"/><rect x="644" y="147" width="3" height="1"/>
</g>
<g shape-rendering="crispEdges">
<rect x="663" y="195" width="15" height="198" fill="#000"/>
<rect x="665" y="197" width="11" height="40" fill="#ffdcdc"/><rect x="665" y="239" width="11" height="15" fill="#ffb4b9"/><rect x="665" y="256" width="11" height="15" fill="#ff6e78"/><rect x="665" y="273" width="11" height="15" fill="#ff1414"/><rect x="665" y="290" width="11" height="15" fill="#ff6400"/><rect x="665" y="307" width="11" height="3" fill="#ffa000"/><rect x="665" y="312" width="11" height="4" fill="#ffd200"/><rect x="665" y="318" width="11" height="4" fill="#ffff00"/><rect x="665" y="324" width="11" height="3" fill="#00f0ff"/><rect x="665" y="329" width="11" height="4" fill="#0032ff"/><rect x="665" y="335" width="11" height="4" fill="#0000aa"/><rect x="665" y="341" width="11" height="14" fill="#6400a0"/><rect x="665" y="357" width="11" height="15" fill="#b400aa"/><rect x="665" y="374" width="11" height="17" fill="#eb00aa"/>
</g>
<text y="84.6" font-size="29.8" class="thin"><tspan x="336.8" textLength="105.0" lengthAdjust="spacingAndGlyphs">vertical</tspan> <tspan x="460.0" textLength="108.0" lengthAdjust="spacingAndGlyphs">velocity</tspan></text>
<text y="108.9" font-size="17.3" class="un"><tspan x="163.6" textLength="56.0" lengthAdjust="spacingAndGlyphs">(×1E4</tspan> <tspan x="228.3" textLength="23.5" lengthAdjust="spacingAndGlyphs">m)</tspan></text>
<text y="142.8" font-size="16.3" class="lt"><tspan x="655.2" textLength="73.6" lengthAdjust="spacingAndGlyphs">t=36600</tspan> <tspan x="738.0" textLength="8.5" lengthAdjust="spacingAndGlyphs">s</tspan></text>
<text y="468.4" font-size="24.0" class="ax"><tspan x="373.0" textLength="13.5" lengthAdjust="spacingAndGlyphs">X</tspan><tspan x="386.2" dy="-1.6" textLength="22.0" lengthAdjust="spacingAndGlyphs">-</tspan><tspan x="407.6" dy="1.6" textLength="124.4" lengthAdjust="spacingAndGlyphs">coordinate</tspan></text>
<text y="0.0" font-size="24.0" class="ax" transform="translate(216.6,339.3) rotate(-90)"><tspan x="0.0" textLength="13.5" lengthAdjust="spacingAndGlyphs">Z</tspan><tspan x="13.2" dy="-1.6" textLength="22.0" lengthAdjust="spacingAndGlyphs">-</tspan><tspan x="34.5" dy="1.6" textLength="123.0" lengthAdjust="spacingAndGlyphs">coordinate</tspan></text>
<text y="437.8" font-size="17.5" class="un"><tspan x="567.0" textLength="56.0" lengthAdjust="spacingAndGlyphs">(×1E5</tspan> <tspan x="631.5" textLength="23.5" lengthAdjust="spacingAndGlyphs">m)</tspan></text>
<text y="414.6" font-size="19.5" class="lab"><tspan x="326.2" textLength="11.5" lengthAdjust="spacingAndGlyphs">1</tspan></text>
<text y="414.6" font-size="19.5" class="lab"><tspan x="402.9" textLength="11.5" lengthAdjust="spacingAndGlyphs">2</tspan></text>
<text y="414.6" font-size="19.5" class="lab"><tspan x="479.6" textLength="11.5" lengthAdjust="spacingAndGlyphs">3</tspan></text>
<text y="414.6" font-size="19.5" class="lab"><tspan x="556.4" textLength="11.5" lengthAdjust="spacingAndGlyphs">4</tspan></text>
<text y="414.6" font-size="19.5" class="lab"><tspan x="633.1" textLength="11.5" lengthAdjust="spacingAndGlyphs">5</tspan></text>
<text y="312.1" font-size="19.5" class="lab"><tspan x="234.3" textLength="11.5" lengthAdjust="spacingAndGlyphs">1</tspan></text>
<text y="224.1" font-size="19.5" class="lab"><tspan x="234.3" textLength="11.5" lengthAdjust="spacingAndGlyphs">2</tspan></text>
<text y="243.8" font-size="18.3" class="lab"><tspan x="686.6" textLength="20.8" lengthAdjust="spacingAndGlyphs">15</tspan></text>
<text y="295.0" font-size="18.3" class="lab"><tspan x="687.2" textLength="10.4" lengthAdjust="spacingAndGlyphs">6</tspan></text>
<text y="323.3" font-size="18.3" class="lab"><tspan x="687.2" textLength="10.4" lengthAdjust="spacingAndGlyphs">1</tspan></text>
<text y="340.1" font-size="18.3" class="lab"><tspan x="685.1" textLength="14.8" lengthAdjust="spacingAndGlyphs">-</tspan><tspan x="699.4" textLength="10.6" lengthAdjust="spacingAndGlyphs">2</tspan></text>
<text y="379.1" font-size="18.3" class="lab"><tspan x="685.1" textLength="14.8" lengthAdjust="spacingAndGlyphs">-</tspan><tspan x="699.4" textLength="10.6" lengthAdjust="spacingAndGlyphs">9</tspan></text>
</svg>
</body></html>
